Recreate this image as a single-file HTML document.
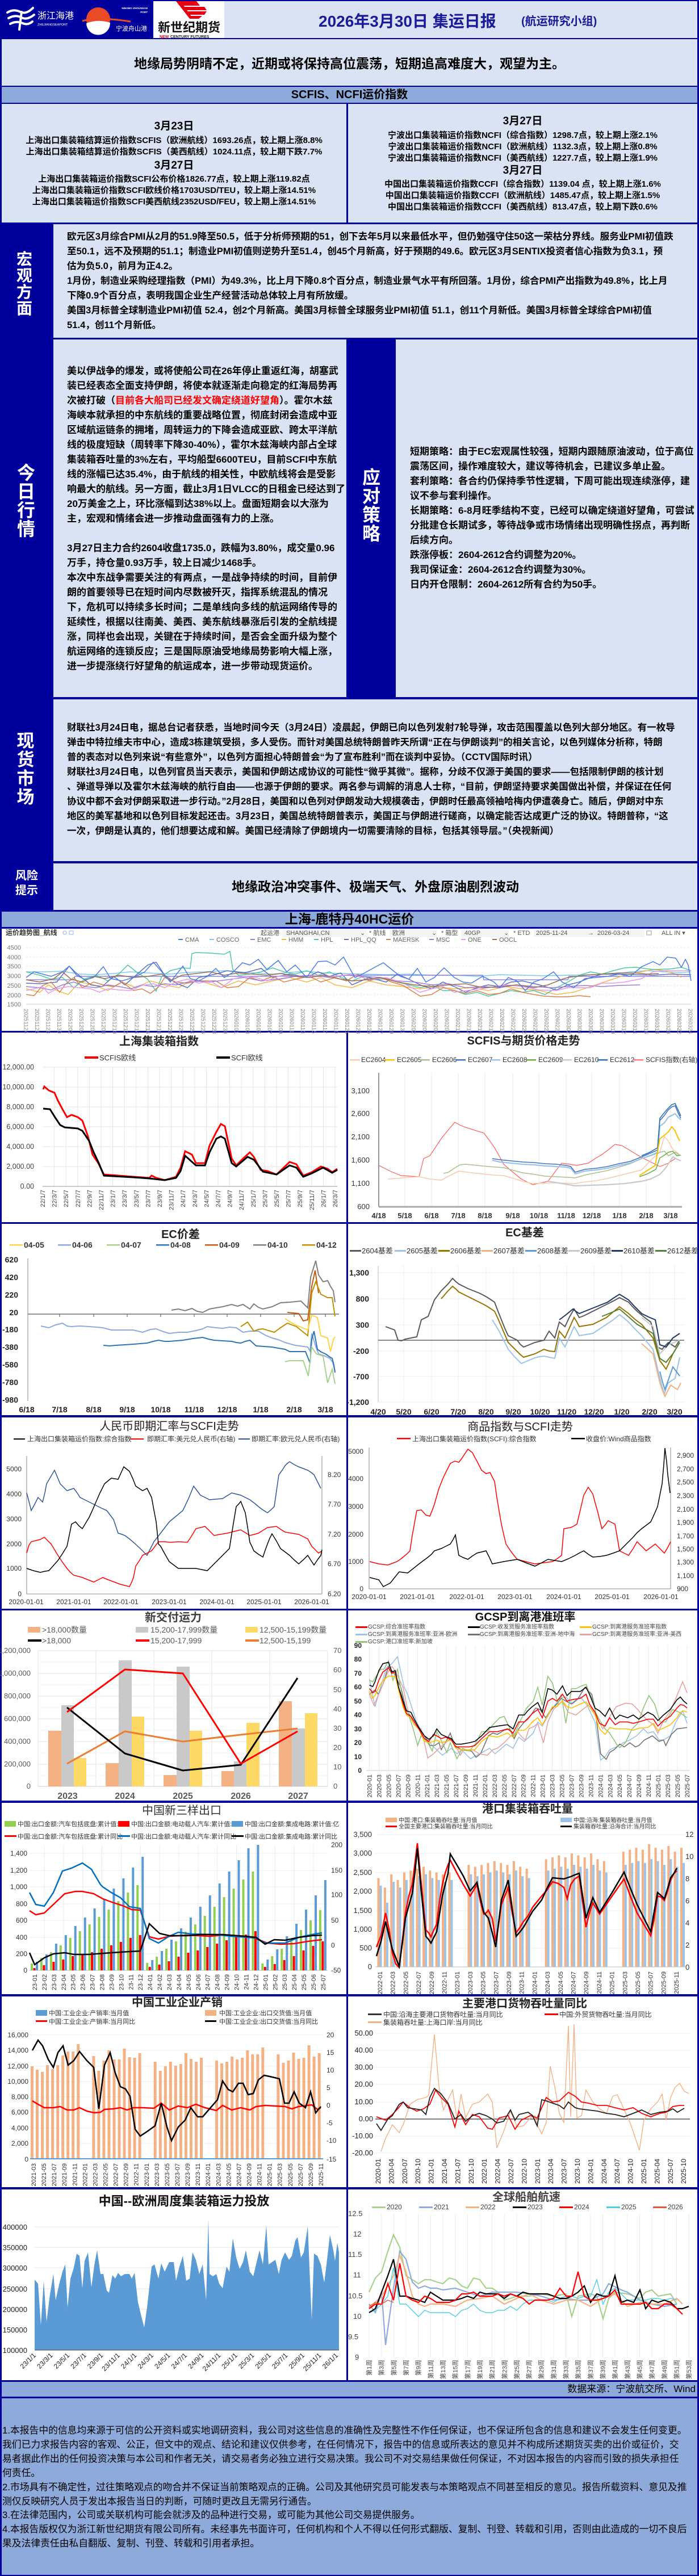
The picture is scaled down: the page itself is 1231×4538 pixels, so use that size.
<!DOCTYPE html>
<html><head><meta charset="utf-8">
<style>
*{margin:0;padding:0;box-sizing:border-box}
body{width:1231px;height:4538px;background:#00009c;position:relative;overflow:hidden;font-family:"Liberation Sans","Noto Sans CJK SC",sans-serif;color:#000}
.pl{position:absolute;background:#dae3f3}
.wh{position:absolute;background:#fff}
.bl{position:absolute;background:#8eaadb}
.t{position:absolute;white-space:nowrap;font-weight:bold;font-size:17px;line-height:26px}
.t div{height:26px}
.c{position:absolute;white-space:nowrap;font-weight:bold;font-size:15px;line-height:20px;text-align:center}
.v{position:absolute;color:#fff;font-weight:bold;text-align:center}
.red{color:#ff0000}
svg text{font-family:"Liberation Sans","Noto Sans CJK SC",sans-serif}
.ns{vector-effect:non-scaling-stroke}
</style></head><body>

<!-- HEADER -->
<div class="wh" style="left:270px;top:2px;width:125px;height:65px"></div>
<div class="pl" style="left:395px;top:2px;width:833px;height:65px"></div>
<div class="pl" style="left:3px;top:69px;width:1225px;height:82px"></div>
<div style="position:absolute;left:3px;top:97px;width:1225px;text-align:center;font-size:23px;font-weight:bold;white-space:nowrap;line-height:30px">地缘局势阴晴不定，近期或将保持高位震荡，短期追高难度大，观望为主。</div>
<div class="bl" style="left:3px;top:153px;width:1225px;height:28px"></div>
<div style="position:absolute;left:3px;top:153px;width:1225px;text-align:center;font-size:20px;font-weight:bold;line-height:28px">SCFIS、NCFI运价指数</div>

<!-- INDEX BOX -->
<div class="pl" style="left:3px;top:183px;width:607px;height:209px"></div>
<div class="pl" style="left:613px;top:183px;width:615px;height:209px"></div>
<div class="c" style="left:3px;width:607px;top:212px;font-size:19px;line-height:22px">3月23日</div>
<div class="c" style="left:3px;width:607px;top:238px">上海出口集装箱结算运价指数SCFIS（欧洲航线）1693.26点，较上期上涨8.8%</div>
<div class="c" style="left:3px;width:607px;top:258px">上海出口集装箱结算运价指数SCFIS（美西航线）1024.11点，较上期下跌7.7%</div>
<div class="c" style="left:3px;width:607px;top:281px;font-size:19px;line-height:22px">3月27日</div>
<div class="c" style="left:3px;width:607px;top:306px">上海出口集装箱运价指数SCFI公布价格1826.77点，较上期上涨119.82点</div>
<div class="c" style="left:3px;width:607px;top:326px">上海出口集装箱运价指数SCFI欧线价格1703USD/TEU，较上期上涨14.51%</div>
<div class="c" style="left:3px;width:607px;top:346px">上海出口集装箱运价指数SCFI美西航线2352USD/FEU，较上期上涨14.51%</div>
<div class="c" style="left:613px;width:615px;top:203px;font-size:19px;line-height:22px">3月27日</div>
<div class="c" style="left:613px;width:615px;top:229px">宁波出口集装箱运价指数NCFI（综合指数）1298.7点，较上期上涨2.1%</div>
<div class="c" style="left:613px;width:615px;top:249px">宁波出口集装箱运价指数NCFI（欧洲航线）1132.3点，较上期上涨0.8%</div>
<div class="c" style="left:613px;width:615px;top:269px">宁波出口集装箱运价指数NCFI（美西航线）1227.7点，较上期上涨1.9%</div>
<div class="c" style="left:613px;width:615px;top:290px;font-size:19px;line-height:22px">3月27日</div>
<div class="c" style="left:613px;width:615px;top:315px">中国出口集装箱运价指数CCFI（综合指数）1139.04 点，较上期上涨1.6%</div>
<div class="c" style="left:613px;width:615px;top:335px">中国出口集装箱运价指数CCFI（欧洲航线）1485.47点，较上期上涨1.5%</div>
<div class="c" style="left:613px;width:615px;top:355px">中国出口集装箱运价指数CCFI（美西航线）813.47点，较上期下跌0.6%</div>

<!-- MACRO -->
<div class="pl" style="left:94px;top:395px;width:1134px;height:200px"></div>
<div class="v" style="left:28px;top:442px;width:30px;font-size:28px;line-height:29px">宏<br>观<br>方<br>面</div>
<div class="t" style="left:118px;top:404px;font-size:16.6px">
<div>欧元区3月综合PMI从2月的51.9降至50.5，低于分析师预期的51，创下去年5月以来最低水平，但仍勉强守住50这一荣枯分界线。服务业PMI初值跌</div>
<div>至50.1，远不及预期的51.1；制造业PMI初值则逆势升至51.4，创45个月新高，好于预期的49.6。欧元区3月SENTIX投资者信心指数为负3.1，预</div>
<div>估为负5.0，前月为正4.2。</div>
<div>1月份，制造业采购经理指数（PMI）为49.3%，比上月下降0.8个百分点，制造业景气水平有所回落。1月份，综合PMI产出指数为49.8%，比上月</div>
<div>下降0.9个百分点，表明我国企业生产经营活动总体较上月有所放缓。</div>
<div>美国3月标普全球制造业PMI初值 52.4，创2个月新高。美国3月标普全球服务业PMI初值 51.1，创11个月新低。美国3月标普全球综合PMI初值</div>
<div>51.4，创11个月新低。</div>
</div>

<!-- TODAY / STRATEGY -->
<div class="pl" style="left:94px;top:598px;width:516px;height:630px"></div>
<div class="pl" style="left:697px;top:598px;width:531px;height:630px"></div>
<div class="v" style="left:29px;top:817px;width:34px;font-size:32px;line-height:33px">今<br>日<br>行<br>情</div>
<div class="v" style="left:637px;top:825px;width:34px;font-size:32px;line-height:33px">应<br>对<br>策<br>略</div>
<div class="t" style="left:118px;top:641px">
<div>美以伊战争的爆发，或将使船公司在26年停止重返红海，胡塞武</div>
<div>装已经表态全面支持伊朗，将使本就逐渐走向稳定的红海局势再</div>
<div>次被打破（<span class="red">目前各大船司已经发文确定绕道好望角</span>）。霍尔木兹</div>
<div>海峡本就承担的中东航线的重要战略位置，彻底封闭会造成中亚</div>
<div>区域航运链条的拥堵，周转运力的下降会造成亚欧、跨太平洋航</div>
<div>线的极度短缺（周转率下降30-40%），霍尔木兹海峡内部占全球</div>
<div>集装箱吞吐量的3%左右，平均船型6600TEU，目前SCFI中东航</div>
<div>线的涨幅已达35.4%，由于航线的相关性，中欧航线将会是受影</div>
<div>响最大的航线。另一方面，截止3月1日VLCC的日租金已经达到了</div>
<div>20万美金之上，环比涨幅到达38%以上。盘面短期会以大涨为</div>
<div>主，宏观和情绪会进一步推动盘面强有力的上涨。</div>
<div></div>
<div>3月27日主力合约2604收盘1735.0，跌幅为3.80%，成交量0.96</div>
<div>万手，持仓量0.93万手，较上日减少1468手。</div>
<div>本次中东战争需要关注的有两点，一是战争持续的时间，目前伊</div>
<div>朗的首要领导已在短时间内尽数被歼灭，指挥系统混乱的情况</div>
<div>下，危机可以持续多长时间；二是单线向多线的航运网络传导的</div>
<div>延续性，根据以往南美、美西、美东航线暴涨后引发的全航线提</div>
<div>涨，同样也会出现，关键在于持续时间，是否会全面升级为整个</div>
<div>航运网络的连锁反应；三是国际原油受地缘局势影响大幅上涨，</div>
<div>进一步提涨绕行好望角的航运成本，进一步带动现货运价。</div>
</div>
<div class="t" style="left:722px;top:783px">
<div>短期策略：由于EC宏观属性较强，短期内跟随原油波动，位于高位</div>
<div>震荡区间，操作难度较大，建议等待机会，已建议多单止盈。</div>
<div>套利策略：各合约仍保持季节性逻辑，下周可能出现连续涨停，建</div>
<div>议不参与套利操作。</div>
<div>长期策略：6-8月旺季结构不变，已经可以确定绕道好望角，可尝试</div>
<div>分批建仓长期试多，等待战争或市场情绪出现明确性拐点，再判断</div>
<div>后续方向。</div>
<div>跌涨停板：2604-2612合约调整为20%。</div>
<div>我司保证金：2604-2612合约调整为30%。</div>
<div>日内开仓限制：2604-2612所有合约为50手。</div>
</div>

<!-- SPOT -->
<div class="pl" style="left:94px;top:1232px;width:1134px;height:285px"></div>
<div class="v" style="left:29px;top:1289px;width:32px;font-size:31px;line-height:33px">现<br>货<br>市<br>场</div>
<div class="t" style="left:118px;top:1269px;font-size:16.5px">
<div>财联社3月24日电，据总台记者获悉，当地时间今天（3月24日）凌晨起，伊朗已向以色列发射7轮导弹，攻击范围覆盖以色列大部分地区。有一枚导</div>
<div>弹击中特拉维夫市中心，造成3栋建筑受损，多人受伤。而针对美国总统特朗普昨天所谓“正在与伊朗谈判”的相关言论，以色列媒体分析称，特朗</div>
<div>普的表态对以色列来说“有些意外”，以色列方面担心特朗普会“为了宣布胜利”而在谈判中妥协。（CCTV国际时讯）</div>
<div>财联社3月24日电，以色列官员当天表示，美国和伊朗达成协议的可能性“微乎其微”。据称，分歧不仅源于美国的要求——包括限制伊朗的核计划</div>
<div>、弹道导弹以及霍尔木兹海峡的航行自由——也源于伊朗的要求。两名参与调解的消息人士称，“目前，伊朗坚持要求美国做出补偿，并保证在任何</div>
<div>协议中都不会对伊朗采取进一步行动。”2月28日，美国和以色列对伊朗发动大规模袭击，伊朗时任最高领袖哈梅内伊遭袭身亡。随后，伊朗对中东</div>
<div>地区的美军基地和以色列目标发起还击。3月23日，美国总统特朗普表示，美国正与伊朗进行磋商，以确定能否达成更广泛的协议。特朗普称，“这</div>
<div>一次，伊朗是认真的，他们想要达成和解。美国已经清除了伊朗境内一切需要清除的目标，包括其领导层。”（央视新闻）</div>
</div>

<!-- RISK -->
<div class="pl" style="left:94px;top:1521px;width:1134px;height:82px"></div>
<div class="v" style="left:26px;top:1530px;width:42px;font-size:20px;line-height:26px">风险<br>提示</div>
<div style="position:absolute;left:94px;width:1134px;top:1546px;text-align:center;font-size:23px;font-weight:bold;line-height:32px">地缘政治冲突事件、极端天气、外盘原油剧烈波动</div>

<div class="bl" style="left:3px;top:1606px;width:1225px;height:27px"></div>
<div style="position:absolute;left:3px;width:1225px;top:1606px;text-align:center;font-size:23px;font-weight:bold;line-height:27px">上海-鹿特丹40HC运价</div>

<!-- CHART PANELS -->
<div class="wh" style="left:3px;top:1636px;width:1225px;height:180px"></div>
<div class="wh" style="left:3px;top:1819px;width:607px;height:334px"></div>
<div class="wh" style="left:613px;top:1819px;width:615px;height:334px"></div>
<div class="wh" style="left:3px;top:2156px;width:607px;height:337px"></div>
<div class="wh" style="left:613px;top:2156px;width:615px;height:337px"></div>
<div class="wh" style="left:3px;top:2497px;width:607px;height:337px"></div>
<div class="wh" style="left:613px;top:2497px;width:615px;height:337px"></div>
<div class="wh" style="left:3px;top:2837px;width:607px;height:335px"></div>
<div class="wh" style="left:613px;top:2837px;width:615px;height:335px"></div>
<div class="wh" style="left:3px;top:3176px;width:607px;height:337px"></div>
<div class="wh" style="left:613px;top:3176px;width:615px;height:337px"></div>
<div class="wh" style="left:3px;top:3517px;width:607px;height:336px"></div>
<div class="wh" style="left:613px;top:3517px;width:615px;height:336px"></div>
<div class="wh" style="left:3px;top:3857px;width:607px;height:336px"></div>
<div class="wh" style="left:613px;top:3857px;width:615px;height:336px"></div>

<!-- FOOTER -->
<div class="bl" style="left:3px;top:4196px;width:1225px;height:26px"></div>
<div style="position:absolute;right:6px;top:4196px;font-size:17px;line-height:26px;white-space:nowrap">数据来源：宁波航交所、Wind</div>
<div class="bl" style="left:3px;top:4225px;width:1225px;height:311px"></div>
<div style="position:absolute;left:4px;top:4270px;font-size:16.8px;line-height:24.9px;white-space:nowrap">
<div>1.本报告中的信息均来源于可信的公开资料或实地调研资料，我公司对这些信息的准确性及完整性不作任何保证，也不保证所包含的信息和建议不会发生任何变更。</div>
<div>我们已力求报告内容的客观、公正，但文中的观点、结论和建议仅供参考，在任何情况下，报告中的信息或所表达的意见并不构成所述期货买卖的出价或征价，交</div>
<div>易者据此作出的任何投资决策与本公司和作者无关，请交易者务必独立进行交易决策。我公司不对交易结果做任何保证，不对因本报告的内容而引致的损失承担任</div>
<div>何责任。</div>
<div>2.市场具有不确定性，过往策略观点的吻合并不保证当前策略观点的正确。公司及其他研究员可能发表与本策略观点不同甚至相反的意见。报告所载资料、意见及推</div>
<div>测仅反映研究人员于发出本报告当日的判断，可随时更改且无需另行通告。</div>
<div>3.在法律范围内，公司或关联机构可能会就涉及的品种进行交易，或可能为其他公司交易提供服务。</div>
<div>4.本报告版权仅为浙江新世纪期货有限公司所有。未经事先书面许可，任何机构和个人不得以任何形式翻版、复制、刊登、转载和引用，否则由此造成的一切不良后</div>
<div>果及法律责任由私自翻版、复制、刊登、转载和引用者承担。</div>
</div>

<svg style="position:absolute;left:0;top:0" width="1231" height="4538" viewBox="0 0 1231 4538">
<!-- ===== LOGOS ===== -->
<g fill="none" stroke="#fff" stroke-width="4" stroke-linecap="round">
<path d="M13 22 Q24 15 36 21 Q46 26 58 14"/>
<path d="M15 32 Q27 25 38 31 Q48 36 60 26"/>
<path d="M18 42 Q29 36 40 41 Q49 45 57 38"/>
<path d="M38 21 L34 52"/>
</g>
<text x="66" y="33" font-size="16" fill="#fff">浙江海港</text>
<text x="66" y="45" font-size="5.5" fill="#fff">ZHEJIANGSEAPORT</text>
<circle cx="173" cy="34" r="21" fill="#ea4b26"/>
<path d="M152 41 Q172 33 194 40 A21 21 0 0 1 152 41 Z" fill="#fff"/>
<path d="M145 37 Q172 29 230 38" stroke="#ea4b26" stroke-width="3" fill="none"/>
<text x="260" y="16" font-size="4.6" font-weight="bold" fill="#fff" text-anchor="end">NINGBO ZHOUSHAN</text>
<text x="260" y="23" font-size="4.6" font-weight="bold" fill="#fff" text-anchor="end">PORT</text>
<text x="204" y="54" font-size="11" fill="#fff">宁波舟山港</text>
<g fill="#e60012">
<polygon points="310,2 346,2 352,10 316,10"/>
<polygon points="318,12 360,12 364,18 324,18"/>
<polygon points="326,20 364,20 360,26 332,26"/>
<polygon points="334,28 356,28 350,33 340,33"/>
<polygon points="310,2 318,2 340,33 334,33"/>
</g>
<text x="278" y="56" font-size="22" font-weight="bold" fill="#111" font-family="Noto Serif CJK SC">新世纪期货</text>
<text x="281" y="67" font-size="7" font-weight="bold" fill="#e60012">NEW</text>
<text x="300" y="67" font-size="7" font-weight="bold" fill="#222">CENTURY FUTURES</text>
<text x="561" y="47" font-size="28" font-weight="bold" fill="#1b1b9a">2026年3月30日 集运日报</text>
<text x="918" y="44" font-size="20" font-weight="bold" fill="#1b1b9a">(航运研究小组)</text>

<!-- ===== FREIGHT CHART ===== -->
<g font-size="11" fill="#555">
<text x="10" y="1647" font-size="12" font-weight="bold" fill="#333">运价趋势图_航线</text>
<circle cx="114" cy="1643" r="3" fill="none" stroke="#8ab4f8"/><rect x="122" y="1640" width="7" height="6" fill="none" stroke="#8ab4f8"/>
<text x="459" y="1647">起运港</text>
<rect x="497" y="1637" width="150" height="14" fill="#f4f4f4"/>
<text x="504" y="1647">SHANGHAI,CN</text><text x="634" y="1647">⌄</text>
<text x="650" y="1647">* 航线</text><rect x="686" y="1637" width="84" height="14" fill="#f4f4f4"/><text x="691" y="1647">欧洲</text><text x="760" y="1647">⌄</text>
<text x="777" y="1647">* 箱型</text><rect x="812" y="1637" width="84" height="14" fill="#f4f4f4"/><text x="818" y="1647">40GP</text><text x="887" y="1647">⌄</text>
<text x="904" y="1647">* ETD</text><rect x="940" y="1637" width="195" height="14" fill="#f4f4f4"/><text x="944" y="1647">2025-11-24</text><text x="1035" y="1647">→</text><text x="1052" y="1647">2026-03-24</text>
<rect x="1139" y="1640" width="8" height="7" fill="none" stroke="#999"/>
<text x="1165" y="1647">ALL IN ▾</text>
</g>
<g font-size="11" fill="#666">
<rect x="314" y="1654" width="8" height="2" fill="#4f7be8"/><text x="326" y="1659">CMA</text>
<rect x="369" y="1654" width="8" height="2" fill="#7ecbef"/><text x="381" y="1659">COSCO</text>
<rect x="441" y="1654" width="8" height="2" fill="#8b85e8"/><text x="453" y="1659">EMC</text>
<rect x="496" y="1654" width="8" height="2" fill="#f5b94a"/><text x="508" y="1659">HMM</text>
<rect x="553" y="1654" width="8" height="2" fill="#4ec9a2"/><text x="565" y="1659">HPL</text>
<rect x="606" y="1654" width="8" height="2" fill="#5d6fc0"/><text x="618" y="1659">HPL_QQ</text>
<rect x="680" y="1654" width="8" height="2" fill="#d9814a"/><text x="692" y="1659">MAERSK</text>
<rect x="756" y="1654" width="8" height="2" fill="#9b7fd8"/><text x="768" y="1659">MSC</text>
<rect x="812" y="1654" width="8" height="2" fill="#e49af0"/><text x="824" y="1659">ONE</text>
<rect x="867" y="1654" width="8" height="2" fill="#9c6e4e"/><text x="879" y="1659">OOCL</text>
</g>
<g stroke="#e6e6e6" stroke-dasharray="3,3">
<line x1="46" y1="1669" x2="1217" y2="1669"/><line x1="46" y1="1686" x2="1217" y2="1686"/><line x1="46" y1="1702" x2="1217" y2="1702"/><line x1="46" y1="1719" x2="1217" y2="1719"/><line x1="46" y1="1736" x2="1217" y2="1736"/><line x1="46" y1="1752" x2="1217" y2="1752"/>
</g>
<line x1="46" y1="1769" x2="1217" y2="1769" stroke="#ccc"/>
<g font-size="11" fill="#777" text-anchor="end">
<text x="37" y="1673">4500</text><text x="37" y="1690">4000</text><text x="37" y="1706">3500</text><text x="37" y="1723">3000</text><text x="37" y="1740">2500</text><text x="37" y="1757">2000</text><text x="37" y="1773">1500</text>
</g>
<g fill="none" stroke-width="1.5">
<polyline stroke="#7ecbef" points="46,1712 80,1712 110,1711 140,1716 170,1717 200,1715 230,1712 260,1714 300,1716 330,1713 360,1712 395,1710 420,1712 450,1714 480,1716 510,1713 540,1711 570,1714 600,1715 640,1716 680,1717 720,1716 760,1718 800,1718 840,1720 880,1717 920,1718 960,1719 1000,1718 1040,1717 1080,1716 1110,1712 1140,1710 1170,1712 1200,1713 1217,1712"/>
<polyline stroke="#8b85e8" points="46,1726 130,1726 132,1720 600,1720 602,1718 850,1718 852,1726 1000,1726 1002,1720 1217,1720"/>
<polyline stroke="#f5b94a" points="46,1742 70,1748 85,1735 100,1745 120,1752 140,1730 165,1735 190,1745 215,1730 240,1740 265,1728 290,1735 315,1740 340,1725 365,1732 390,1740 420,1728 450,1735 480,1728 510,1722 540,1730 565,1722 590,1735 620,1740 650,1728 680,1735 710,1738 740,1742 770,1738 800,1742 830,1740 860,1745 890,1738 920,1742 950,1745 980,1752 1010,1748 1040,1738 1070,1728 1100,1718 1130,1712 1150,1708 1170,1710 1190,1716 1200,1722"/>
<polyline stroke="#4ec9a2" points="46,1712 70,1718 90,1725 110,1722 130,1740 150,1724 170,1718 190,1728 210,1715 225,1700 240,1712 260,1725 275,1746 285,1720 300,1710 320,1705 335,1706 338,1680 345,1678 370,1679 395,1681 405,1676 410,1708 420,1718 440,1716 460,1712 480,1705 500,1712 520,1716 540,1710 560,1718 580,1712 600,1722 620,1728 640,1720 660,1726 680,1724 700,1730 720,1735 740,1740 760,1735 780,1745 800,1745 820,1752 840,1748 860,1755 880,1750 900,1745 920,1748 940,1745 960,1752 980,1740 1000,1730 1020,1718 1040,1712 1060,1716 1080,1710 1100,1705 1120,1704 1150,1708 1180,1707 1200,1704 1217,1710"/>
<polyline stroke="#5d6fc0" points="46,1732 70,1733 100,1730 122,1702 135,1715 160,1735 180,1738 200,1720 220,1735 260,1700 275,1695 290,1718 310,1732 330,1740 350,1722 380,1716 400,1710 430,1714 460,1706 480,1722 510,1716 540,1722 560,1712 580,1720 600,1714 620,1735 650,1722 680,1730 700,1716 720,1725 740,1735 760,1742 780,1730 800,1738 820,1748 840,1740 860,1735 880,1738 900,1730 920,1728 950,1735 980,1744 1000,1735 1020,1730 1040,1722 1060,1716 1090,1716 1120,1717 1150,1718 1180,1716 1217,1717"/>
<polyline stroke="#d9814a" points="46,1752 60,1754 75,1736 90,1730 105,1748 115,1734 130,1722 145,1740 165,1730 185,1736 200,1738 215,1730 235,1745 250,1742 265,1750 280,1738 290,1722 310,1730 330,1732 350,1728 380,1728 400,1740 420,1738 440,1722 460,1728 480,1720 500,1730 520,1725 545,1720 565,1730 590,1722 610,1728 630,1716 650,1728 670,1722 690,1730 710,1736 740,1755 760,1752 780,1740 800,1745 820,1750 840,1745 860,1752 880,1750 900,1742 920,1748 940,1752 960,1755 980,1756 1000,1756 1020,1754 1040,1756"/>
<polyline stroke="#9b7fd8" points="46,1738 70,1740 90,1744 110,1735 130,1730 150,1738 170,1740 190,1735 210,1738 230,1742 250,1735 270,1738 290,1733 310,1735 340,1728 370,1730 400,1726 430,1722 460,1728 490,1725 520,1720 550,1718 580,1722 610,1718 640,1720 670,1722 700,1728 730,1730 760,1735 790,1733 820,1740 850,1738 880,1740 910,1735 940,1738 970,1740 1000,1738 1030,1736 1060,1738 1090,1736 1127,1735"/>
<polyline stroke="#e49af0" points="46,1745 60,1742 75,1738 85,1750 100,1742 120,1738 140,1740 160,1742 175,1748 190,1742 210,1744 230,1745 250,1736 270,1733 290,1740 310,1730 330,1725 350,1732 370,1728 390,1740 410,1725 430,1720 450,1722 470,1728 490,1720 510,1718 530,1722 560,1718 590,1720 620,1716 650,1726 680,1722 710,1732 740,1748 760,1742 780,1738 800,1748 830,1744 860,1740 890,1735 920,1738 950,1744 980,1745 1000,1740 1040,1740 1060,1732 1080,1732 1100,1730 1130,1724 1150,1712 1170,1710 1217,1710"/>
<polyline stroke="#9c6e4e" points="46,1726 70,1730 95,1724 110,1712 125,1725 145,1730 165,1720 185,1724 210,1718 235,1722 260,1720 285,1716 300,1728 320,1718 345,1715 370,1712 395,1718 420,1714 445,1716 470,1718 495,1715 520,1720 545,1722 570,1718 595,1724 620,1728 645,1726 670,1722 700,1730 730,1735 760,1738 790,1735 820,1733 850,1740 880,1738 910,1735 940,1740 965,1735 990,1725 1000,1722 1030,1718 1060,1716 1090,1714 1120,1714 1140,1716 1160,1715"/>
<polyline stroke="#4f7be8" points="46,1722 60,1712 75,1716 90,1720 110,1712 122,1702 135,1718 150,1726 165,1722 182,1703 195,1724 215,1728 235,1722 255,1712 270,1695 285,1712 300,1730 322,1702 335,1724 350,1728 365,1720 380,1706 395,1722 410,1713 427,1696 440,1700 455,1690 470,1708 490,1692 505,1712 520,1700 540,1722 560,1694 575,1693 590,1700 605,1686 615,1704 625,1722 640,1715 660,1704 675,1696 690,1708 705,1720 720,1725 735,1706 750,1730 765,1722 782,1705 800,1722 815,1730 830,1732 850,1720 870,1730 880,1740 895,1722 910,1728 925,1745 940,1730 955,1725 975,1712 990,1730 1010,1740 1030,1724 1050,1722 1070,1720 1090,1716 1110,1720 1130,1703 1150,1694 1162,1700 1175,1686 1190,1688 1200,1704 1207,1690 1212,1700 1217,1728"/>
</g>
<g font-size="10" fill="#888">
<text transform="translate(42.5,1777) rotate(90)">20251124</text><text transform="translate(62,1777) rotate(90)">20251126</text><text transform="translate(81.5,1777) rotate(90)">20251128</text><text transform="translate(101,1777) rotate(90)">20251130</text><text transform="translate(120.5,1777) rotate(90)">20251202</text><text transform="translate(140,1777) rotate(90)">20251204</text><text transform="translate(159.5,1777) rotate(90)">20251206</text><text transform="translate(179,1777) rotate(90)">20251208</text><text transform="translate(198.5,1777) rotate(90)">20251210</text><text transform="translate(218,1777) rotate(90)">20251212</text><text transform="translate(237.5,1777) rotate(90)">20251214</text><text transform="translate(257,1777) rotate(90)">20251216</text><text transform="translate(276.5,1777) rotate(90)">20251218</text><text transform="translate(296,1777) rotate(90)">20251220</text><text transform="translate(315.5,1777) rotate(90)">20251222</text><text transform="translate(335,1777) rotate(90)">20251224</text><text transform="translate(354.5,1777) rotate(90)">20251226</text><text transform="translate(374,1777) rotate(90)">20251228</text><text transform="translate(393.5,1777) rotate(90)">20251230</text><text transform="translate(413,1777) rotate(90)">20260101</text><text transform="translate(432.5,1777) rotate(90)">20260103</text><text transform="translate(452,1777) rotate(90)">20260105</text><text transform="translate(471.5,1777) rotate(90)">20260107</text><text transform="translate(491,1777) rotate(90)">20260109</text><text transform="translate(510.5,1777) rotate(90)">20260111</text><text transform="translate(530,1777) rotate(90)">20260113</text><text transform="translate(549.5,1777) rotate(90)">20260115</text><text transform="translate(569,1777) rotate(90)">20260117</text><text transform="translate(588.5,1777) rotate(90)">20260119</text><text transform="translate(608,1777) rotate(90)">20260121</text><text transform="translate(627.5,1777) rotate(90)">20260123</text><text transform="translate(647,1777) rotate(90)">20260125</text><text transform="translate(666.5,1777) rotate(90)">20260127</text><text transform="translate(686,1777) rotate(90)">20260129</text><text transform="translate(705.5,1777) rotate(90)">20260131</text><text transform="translate(725,1777) rotate(90)">20260202</text><text transform="translate(744.5,1777) rotate(90)">20260204</text><text transform="translate(764,1777) rotate(90)">20260206</text><text transform="translate(783.5,1777) rotate(90)">20260208</text><text transform="translate(803,1777) rotate(90)">20260210</text><text transform="translate(822.5,1777) rotate(90)">20260212</text><text transform="translate(842,1777) rotate(90)">20260214</text><text transform="translate(861.5,1777) rotate(90)">20260216</text><text transform="translate(881,1777) rotate(90)">20260218</text><text transform="translate(900.5,1777) rotate(90)">20260220</text><text transform="translate(920,1777) rotate(90)">20260222</text><text transform="translate(939.5,1777) rotate(90)">20260224</text><text transform="translate(959,1777) rotate(90)">20260226</text><text transform="translate(978.5,1777) rotate(90)">20260228</text><text transform="translate(998,1777) rotate(90)">20260302</text><text transform="translate(1017.5,1777) rotate(90)">20260304</text><text transform="translate(1037,1777) rotate(90)">20260306</text><text transform="translate(1056.5,1777) rotate(90)">20260308</text><text transform="translate(1076,1777) rotate(90)">20260310</text><text transform="translate(1095.5,1777) rotate(90)">20260312</text><text transform="translate(1115,1777) rotate(90)">20260314</text><text transform="translate(1134.5,1777) rotate(90)">20260316</text><text transform="translate(1154,1777) rotate(90)">20260318</text><text transform="translate(1173.5,1777) rotate(90)">20260320</text><text transform="translate(1193,1777) rotate(90)">20260322</text><text transform="translate(1212.5,1777) rotate(90)">20260324</text>
</g>

<!-- ===== SCFI INDEX (left r1) ===== -->
<text x="280" y="1841" font-size="20" font-weight="bold" text-anchor="middle" fill="#222">上海集装箱指数</text>
<rect x="149" y="1861" width="24" height="4" fill="#ff0000"/><text x="175" y="1868" font-size="13" fill="#333">SCFIS欧线</text>
<rect x="381" y="1861" width="24" height="4" fill="#000"/><text x="407" y="1868" font-size="13" fill="#333">SCFI欧线</text>
<g stroke="#e6e6e6">
<line x1="75" y1="1880" x2="594" y2="1880"/><line x1="75" y1="1915" x2="594" y2="1915"/><line x1="75" y1="1950" x2="594" y2="1950"/><line x1="75" y1="1985" x2="594" y2="1985"/><line x1="75" y1="2020" x2="594" y2="2020"/><line x1="75" y1="2055" x2="594" y2="2055"/>
<line x1="95.6" y1="1880" x2="95.6" y2="2090"/><line x1="116.2" y1="1880" x2="116.2" y2="2090"/><line x1="136.8" y1="1880" x2="136.8" y2="2090"/><line x1="157.4" y1="1880" x2="157.4" y2="2090"/><line x1="178" y1="1880" x2="178" y2="2090"/><line x1="198.6" y1="1880" x2="198.6" y2="2090"/><line x1="219.2" y1="1880" x2="219.2" y2="2090"/><line x1="239.8" y1="1880" x2="239.8" y2="2090"/><line x1="260.4" y1="1880" x2="260.4" y2="2090"/><line x1="281" y1="1880" x2="281" y2="2090"/><line x1="301.6" y1="1880" x2="301.6" y2="2090"/><line x1="322.2" y1="1880" x2="322.2" y2="2090"/><line x1="342.8" y1="1880" x2="342.8" y2="2090"/><line x1="363.4" y1="1880" x2="363.4" y2="2090"/><line x1="384" y1="1880" x2="384" y2="2090"/><line x1="404.6" y1="1880" x2="404.6" y2="2090"/><line x1="425.2" y1="1880" x2="425.2" y2="2090"/><line x1="445.8" y1="1880" x2="445.8" y2="2090"/><line x1="466.4" y1="1880" x2="466.4" y2="2090"/><line x1="487" y1="1880" x2="487" y2="2090"/><line x1="507.6" y1="1880" x2="507.6" y2="2090"/><line x1="528.2" y1="1880" x2="528.2" y2="2090"/><line x1="548.8" y1="1880" x2="548.8" y2="2090"/><line x1="569.4" y1="1880" x2="569.4" y2="2090"/><line x1="590" y1="1880" x2="590" y2="2090"/>
</g>
<line x1="75" y1="2090" x2="594" y2="2090" stroke="#999"/>
<g font-size="12.5" fill="#444" text-anchor="end">
<text x="60" y="1884">12,000.00</text><text x="60" y="1919">10,000.00</text><text x="60" y="1954">8,000.00</text><text x="60" y="1989">6,000.00</text><text x="60" y="2024">4,000.00</text><text x="60" y="2059">2,000.00</text><text x="60" y="2094">0.00</text>
</g>
<polyline fill="none" stroke="#ff0000" stroke-width="3" points="76,1919 78,1914 86,1921 96,1925 102,1939 110,1954 118,1968 126,1964 137,1968 145,1974 155,2002 163,2034 173,2049 183,2069 235,2073 263,2075 267,2071 275,2075 290,2079 310,2073 318,2057 326,2028 338,2034 345,2049 361,2049 369,2018 381,1994 389,1980 396,1984 408,2041 416,2053 428,2041 440,2030 447,2038 459,2061 471,2063 487,2069 510,2047 522,2051 534,2071 549,2065 565,2055 577,2059 585,2065 594,2059"/>
<polyline fill="none" stroke="#000" stroke-width="3" points="76,1953 88,1954 98,1970 106,1982 114,1986 137,1988 145,1992 157,2010 165,2030 174,2049 183,2071 235,2074 263,2076 290,2079 310,2075 318,2063 326,2036 345,2053 361,2053 369,2030 381,2006 389,2002 396,2006 408,2049 416,2055 436,2038 447,2043 463,2064 487,2069 510,2053 522,2057 534,2073 549,2067 569,2057 585,2066 594,2061"/>
<g font-size="11" fill="#444" text-anchor="end">
<text transform="translate(79,2096) rotate(-90)">22/1/7</text><text transform="translate(99.6,2096) rotate(-90)">22/3/7</text><text transform="translate(120.2,2096) rotate(-90)">22/5/7</text><text transform="translate(140.8,2096) rotate(-90)">22/7/7</text><text transform="translate(161.4,2096) rotate(-90)">22/9/7</text><text transform="translate(182,2096) rotate(-90)">22/11/7</text><text transform="translate(202.6,2096) rotate(-90)">23/1/7</text><text transform="translate(223.2,2096) rotate(-90)">23/3/7</text><text transform="translate(243.8,2096) rotate(-90)">23/5/7</text><text transform="translate(264.4,2096) rotate(-90)">23/7/7</text><text transform="translate(285,2096) rotate(-90)">23/9/7</text><text transform="translate(305.6,2096) rotate(-90)">23/11/7</text><text transform="translate(326.2,2096) rotate(-90)">24/1/7</text><text transform="translate(346.8,2096) rotate(-90)">24/3/7</text><text transform="translate(367.4,2096) rotate(-90)">24/5/7</text><text transform="translate(388,2096) rotate(-90)">24/7/7</text><text transform="translate(408.6,2096) rotate(-90)">24/9/7</text><text transform="translate(429.2,2096) rotate(-90)">24/11/7</text><text transform="translate(449.8,2096) rotate(-90)">25/1/7</text><text transform="translate(470.4,2096) rotate(-90)">25/3/7</text><text transform="translate(491,2096) rotate(-90)">25/5/7</text><text transform="translate(511.6,2096) rotate(-90)">25/7/7</text><text transform="translate(532.2,2096) rotate(-90)">25/9/7</text><text transform="translate(552.8,2096) rotate(-90)">25/11/7</text><text transform="translate(573.4,2096) rotate(-90)">26/1/7</text><text transform="translate(594,2096) rotate(-90)">26/3/7</text>
</g>

<!-- ===== SCFIS vs futures (right r1) ===== -->
<text x="922" y="1840" font-size="20" font-weight="bold" text-anchor="middle" fill="#222">SCFIS与期货价格走势</text>
<g font-size="12" fill="#333">
<rect x="616" y="1866" width="18" height="2.5" fill="#f8cbad"/><text x="636" y="1871">EC2604</text>
<rect x="677" y="1866" width="18" height="2.5" fill="#ffc000"/><text x="699" y="1871">EC2605</text>
<rect x="739" y="1866" width="18" height="2.5" fill="#a9c08f"/><text x="761" y="1871">EC2606</text>
<rect x="802" y="1866" width="18" height="2.5" fill="#4472c4"/><text x="824" y="1871">EC2607</text>
<rect x="863" y="1866" width="18" height="2.5" fill="#9dc3e6"/><text x="885" y="1871">EC2608</text>
<rect x="926" y="1866" width="18" height="2.5" fill="#70ad47"/><text x="948" y="1871">EC2609</text>
<rect x="989" y="1866" width="18" height="2.5" fill="#c9c9c9"/><text x="1011" y="1871">EC2610</text>
<rect x="1052" y="1866" width="18" height="2.5" fill="#2e75b6"/><text x="1074" y="1871">EC2612</text>
<rect x="1115" y="1866" width="18" height="2.5" fill="#ff7c80"/><text x="1137" y="1871">SCFIS指数(右轴)</text>
</g>
<g stroke="#e8e8e8">
<line x1="713" y1="1890" x2="713" y2="2126"/><line x1="760" y1="1890" x2="760" y2="2126"/><line x1="807" y1="1890" x2="807" y2="2126"/><line x1="854" y1="1890" x2="854" y2="2126"/><line x1="903" y1="1890" x2="903" y2="2126"/><line x1="949" y1="1890" x2="949" y2="2126"/><line x1="997" y1="1890" x2="997" y2="2126"/><line x1="1042" y1="1890" x2="1042" y2="2126"/><line x1="1091" y1="1890" x2="1091" y2="2126"/><line x1="1138" y1="1890" x2="1138" y2="2126"/><line x1="1181" y1="1890" x2="1181" y2="2126"/>
</g>
<line x1="667" y1="1890" x2="667" y2="2126" stroke="#333"/>
<line x1="667" y1="2126" x2="1201" y2="2126" stroke="#aaa" stroke-width="3"/>
<g font-size="13" fill="#333" text-anchor="end">
<text x="651" y="1926">3,100</text><text x="651" y="1966">2,600</text><text x="651" y="2007">2,100</text><text x="651" y="2048">1,600</text><text x="651" y="2089">1,100</text><text x="651" y="2130">600</text>
</g>
<g font-size="13" fill="#333" text-anchor="middle" font-weight="bold">
<text x="667" y="2146">4/18</text><text x="713" y="2146">5/18</text><text x="760" y="2146">6/18</text><text x="807" y="2146">7/18</text><text x="854" y="2146">8/18</text><text x="903" y="2146">9/18</text><text x="949" y="2146">10/18</text><text x="997" y="2146">11/18</text><text x="1042" y="2146">12/18</text><text x="1091" y="2146">1/18</text><text x="1138" y="2146">2/18</text><text x="1181" y="2146">3/18</text>
</g>
<g fill="none" stroke-width="1.6">
<polyline stroke="#ff5b5b" stroke-width="1.2" points="667,2053 679,2059 691,2065 699,2068 706,2071 722,2072 738,2073 746,2041 757,2036 767,2021 777,2006 789,1991 801,1977 810,1982 820,1986 836,1991 852,1996 862,2009 871,2022 879,2036 887,2051 902,2064 918,2077 928,2082 938,2087 952,2084 965,2081 977,2065 989,2049 1003,2051 1016,2053 1026,2051 1036,2049 1048,2041 1060,2034 1072,2025 1083,2016 1095,2018 1105,2024 1115,2030 1125,2036 1134,2041 1148,2048 1162,2055 1170,2052 1177,2049 1183,2045 1189,2041"/>
<polyline stroke="#f8cbad" points="683,2077 700,2076 720,2074 738,2073 757,2077 777,2079 790,2072 808,2063 830,2066 850,2068 870,2070 887,2071 905,2076 920,2081 938,2085 960,2084 985,2084 1013,2085 1030,2082 1050,2080 1070,2076 1090,2071 1110,2066 1130,2061 1150,2040 1162,2030 1170,2002 1177,2010 1185,2025 1192,2030 1197,2034"/>
<polyline stroke="#a9c08f" points="781,2067 790,2065 800,2058 810,2052 820,2051 840,2053 860,2055 887,2057 905,2062 920,2066 942,2069 960,2072 980,2073 1000,2074 1013,2075 1030,2070 1050,2066 1070,2062 1090,2056 1110,2050 1130,2041 1146,2036 1162,2030 1170,2028 1177,2036 1185,2032 1190,2030 1197,2036"/>
<polyline stroke="#c9c9c9" stroke-width="2.2" points="965,2081 990,2085 1013,2089 1040,2088 1070,2087 1100,2085 1130,2081 1146,2077 1162,2069 1172,2058 1185,2038 1192,2042 1199,2045"/>
<polyline stroke="#9dc3e6" stroke-width="2.2" points="867,2044 880,2047 900,2049 920,2051 940,2052 960,2054 980,2055 997,2056 1005,2058 1013,2068 1030,2063 1050,2061 1070,2058 1090,2053 1110,2049 1130,2041 1144,2036 1158,2030 1162,1984 1170,1978 1177,1968 1183,1965 1189,1962 1194,1968 1199,1973"/>
<polyline stroke="#4472c4" points="867,2041 880,2043 900,2045 920,2047 940,2048 960,2050 980,2051 997,2053 1005,2055 1013,2065 1030,2060 1050,2058 1070,2055 1090,2050 1110,2046 1130,2038 1144,2032 1158,2026 1162,1974 1170,1965 1177,1955 1183,1950 1189,1948 1194,1960 1199,1970"/>
<polyline stroke="#2e75b6" points="1130,2036 1144,2030 1158,2022 1162,1970 1170,1960 1177,1952 1183,1946 1189,1944 1194,1955 1199,1966"/>
<polyline stroke="#70ad47" points="1126,2073 1140,2068 1155,2060 1162,2040 1170,2035 1177,2030 1185,2028 1192,2036 1199,2035"/>
<polyline stroke="#ffc000" stroke-width="2" points="1126,2071 1140,2062 1154,2053 1162,2006 1170,2000 1177,1994 1183,1985 1189,1992 1193,2002 1197,2010"/>
</g>

<!-- ===== EC spread (left r2) ===== -->
<text x="318" y="2181" font-size="20" font-weight="bold" text-anchor="middle" fill="#222">EC价差</text>
<g font-size="14" font-weight="bold" fill="#333">
<rect x="17" y="2192" width="23" height="2.5" fill="#ffd34d"/><text x="42" y="2198">04-05</text>
<rect x="102" y="2192" width="23" height="2.5" fill="#8eaadc"/><text x="127" y="2198">04-06</text>
<rect x="188" y="2192" width="23" height="2.5" fill="#a9d18e"/><text x="213" y="2198">04-07</text>
<rect x="275" y="2192" width="23" height="2.5" fill="#2e75b6"/><text x="300" y="2198">04-08</text>
<rect x="361" y="2192" width="23" height="2.5" fill="#c55a11"/><text x="386" y="2198">04-09</text>
<rect x="446" y="2192" width="23" height="2.5" fill="#7f7f7f"/><text x="471" y="2198">04-10</text>
<rect x="532" y="2192" width="23" height="2.5" fill="#bf9000"/><text x="557" y="2198">04-12</text>
</g>
<line x1="49" y1="2217" x2="49" y2="2468" stroke="#888"/>
<line x1="49" y1="2315" x2="597" y2="2315" stroke="#555" stroke-width="1.3"/>
<g stroke="#555"><line x1="105" y1="2315" x2="105" y2="2320"/><line x1="165" y1="2315" x2="165" y2="2320"/><line x1="224" y1="2315" x2="224" y2="2320"/><line x1="283" y1="2315" x2="283" y2="2320"/><line x1="342" y1="2315" x2="342" y2="2320"/><line x1="400" y1="2315" x2="400" y2="2320"/><line x1="459" y1="2315" x2="459" y2="2320"/><line x1="518" y1="2315" x2="518" y2="2320"/><line x1="573" y1="2315" x2="573" y2="2320"/></g>
<g font-size="14" font-weight="bold" fill="#222" text-anchor="end">
<text x="32" y="2224">620</text><text x="32" y="2255">420</text><text x="32" y="2286">220</text><text x="32" y="2317">20</text><text x="32" y="2347">-180</text><text x="32" y="2378">-380</text><text x="32" y="2409">-580</text><text x="32" y="2440">-780</text><text x="32" y="2471">-980</text>
</g>
<g font-size="14" font-weight="bold" fill="#222" text-anchor="middle">
<text x="47" y="2488">6/18</text><text x="105" y="2488">7/18</text><text x="165" y="2488">8/18</text><text x="224" y="2488">9/18</text><text x="283" y="2488">10/18</text><text x="342" y="2488">11/18</text><text x="400" y="2488">12/18</text><text x="459" y="2488">1/18</text><text x="518" y="2488">2/18</text><text x="573" y="2488">3/18</text>
</g>
<g fill="none" stroke-width="2">
<polyline stroke="#7f7f7f" points="302,2308 314,2306 326,2309 338,2305 347,2310 357,2312 369,2306 380,2304 392,2302 408,2298 418,2301 428,2298 440,2306 447,2297 455,2303 463,2306 479,2302 494,2295 510,2294 530,2292 538,2300 542,2304 547,2250 556,2221 561,2246 569,2258 577,2256 582,2266 587,2274 590,2294"/>
<polyline stroke="#8eaadc" points="72,2336 86,2339 98,2334 110,2331 118,2336 126,2337 141,2336 157,2337 170,2338 181,2339 196,2343 215,2343 235,2343 251,2347 265,2342 275,2341 288,2346 298,2349 315,2347 330,2347 345,2344 357,2341 365,2337 380,2339 392,2340 404,2338 416,2339 428,2347 440,2345 455,2345 467,2352 479,2357 490,2360 502,2365 520,2370 542,2373 546,2380 549,2349 556,2372 561,2385 570,2388 581,2393 586,2400 590,2416"/>
<polyline stroke="#2e75b6" points="182,2370 193,2371 204,2370 220,2369 235,2368 247,2367 259,2366 270,2363 279,2361 290,2363 298,2363 310,2362 322,2361 340,2358 357,2356 367,2359 377,2361 392,2362 408,2363 416,2365 424,2366 432,2363 440,2361 451,2371 465,2372 479,2373 490,2375 502,2377 510,2381 525,2381 538,2381 546,2401 549,2360 553,2345 559,2377 566,2382 573,2385 580,2390 585,2393 588,2405 590,2418"/>
<polyline stroke="#c55a11" points="506,2312 516,2313 526,2314 530,2320 534,2327 542,2325 545,2300 549,2266 555,2238 561,2278"/>
<polyline stroke="#bf9000" points="424,2337 436,2329 447,2345 455,2342 463,2341 473,2344 483,2347 494,2339 506,2331 514,2334 522,2337 532,2345 542,2353 549,2278 556,2258 561,2270 565,2280 571,2283 577,2286 585,2286 590,2319"/>
<polyline stroke="#ffd34d" points="502,2323 510,2328 518,2333 530,2338 542,2343 549,2317 559,2321 565,2353 571,2355 577,2357 582,2381 587,2360 590,2355"/>
<polyline stroke="#a9d18e" points="502,2399 510,2397 522,2397 534,2397 543,2424 549,2373 557,2385 563,2387 569,2389 577,2436 585,2412 590,2438"/>
</g>

<!-- ===== EC basis (right r2) ===== -->
<text x="924" y="2178" font-size="20" font-weight="bold" text-anchor="middle" fill="#222">EC基差</text>
<g font-size="13" fill="#333">
<rect x="616" y="2202" width="20" height="3" fill="#595959"/><text x="637" y="2208">2604基差</text>
<rect x="695" y="2202" width="20" height="3" fill="#9dc3e6"/><text x="716" y="2208">2605基差</text>
<rect x="772" y="2202" width="20" height="3" fill="#997300"/><text x="793" y="2208">2606基差</text>
<rect x="848" y="2202" width="20" height="3" fill="#f4b183"/><text x="869" y="2208">2607基差</text>
<rect x="925" y="2202" width="20" height="3" fill="#5b9bd5"/><text x="946" y="2208">2608基差</text>
<rect x="1001" y="2202" width="20" height="3" fill="#c9c9c9"/><text x="1022" y="2208">2609基差</text>
<rect x="1077" y="2202" width="20" height="3" fill="#1f3864"/><text x="1098" y="2208">2610基差</text>
<rect x="1154" y="2202" width="20" height="3" fill="#548235"/><text x="1175" y="2208">2612基差</text>
</g>
<g stroke="#ececec">
<line x1="666" y1="2242" x2="1205" y2="2242"/><line x1="666" y1="2288" x2="1205" y2="2288"/><line x1="666" y1="2334" x2="1205" y2="2334"/><line x1="666" y1="2380" x2="1205" y2="2380"/><line x1="666" y1="2425" x2="1205" y2="2425"/><line x1="666" y1="2470" x2="1205" y2="2470"/>
<line x1="711" y1="2230" x2="711" y2="2470"/><line x1="760" y1="2230" x2="760" y2="2470"/><line x1="807" y1="2230" x2="807" y2="2470"/><line x1="856" y1="2230" x2="856" y2="2470"/><line x1="904" y1="2230" x2="904" y2="2470"/><line x1="951" y1="2230" x2="951" y2="2470"/><line x1="998" y1="2230" x2="998" y2="2470"/><line x1="1046" y1="2230" x2="1046" y2="2470"/><line x1="1095" y1="2230" x2="1095" y2="2470"/><line x1="1144" y1="2230" x2="1144" y2="2470"/><line x1="1188" y1="2230" x2="1188" y2="2470"/>
</g>
<line x1="666" y1="2230" x2="666" y2="2470" stroke="#bbb"/>
<line x1="666" y1="2361" x2="1205" y2="2361" stroke="#444" stroke-width="1.3"/>
<g font-size="14" font-weight="bold" fill="#222" text-anchor="end">
<text x="650" y="2247">1,300</text><text x="650" y="2293">800</text><text x="650" y="2339">300</text><text x="650" y="2385">-200</text><text x="650" y="2430">-700</text><text x="650" y="2475">-1,200</text>
</g>
<g font-size="14" font-weight="bold" fill="#222" text-anchor="middle">
<text x="666" y="2492">4/20</text><text x="711" y="2492">5/20</text><text x="760" y="2492">6/20</text><text x="807" y="2492">7/20</text><text x="856" y="2492">8/20</text><text x="904" y="2492">9/20</text><text x="951" y="2492">10/20</text><text x="998" y="2492">11/20</text><text x="1046" y="2492">12/20</text><text x="1095" y="2492">1/20</text><text x="1144" y="2492">2/20</text><text x="1188" y="2492">3/20</text>
</g>
<g fill="none" stroke-width="2">
<polyline stroke="#595959" points="679,2337 687,2340 695,2343 701,2361 707,2362 714,2359 724,2357 734,2355 742,2325 754,2319 765,2290 777,2274 789,2262 797,2252 803,2258 808,2262 816,2266 824,2270 834,2274 844,2278 852,2282 859,2286 865,2290 871,2294 877,2310 883,2325 889,2340 895,2353 903,2357 911,2361 916,2368 922,2373 932,2369 942,2365 950,2363 958,2361 963,2352 967,2345 972,2351 977,2357 985,2329 990,2333 995,2337 1003,2320 1011,2306 1016,2314 1020,2321 1028,2318 1036,2314 1044,2310 1052,2306 1060,2302 1068,2298 1080,2292 1091,2286 1099,2290 1107,2294 1114,2302 1122,2310 1134,2320 1146,2329 1152,2350 1158,2373 1166,2377 1171,2371 1177,2365 1183,2369 1189,2373 1197,2361"/>
<polyline stroke="#997300" points="777,2288 789,2274 797,2266 803,2271 808,2276 816,2280 824,2284 834,2289 844,2294 852,2298 859,2302 865,2306 871,2310 877,2323 883,2337 889,2351 895,2365 903,2373 911,2381 916,2386 922,2391 932,2388 942,2385 950,2381 958,2377 967,2380 977,2381 981,2363 985,2345 990,2351 995,2357 1003,2339 1011,2321 1016,2329 1020,2337 1032,2335 1044,2333 1056,2327 1068,2321 1080,2311 1091,2302 1099,2308 1107,2314 1118,2324 1130,2333 1140,2345 1150,2357 1156,2377 1162,2397 1168,2405 1173,2412 1179,2399 1185,2385 1191,2375 1197,2365"/>
<polyline stroke="#9dc3e6" points="867,2325 873,2335 879,2345 887,2361 895,2377 906,2390 918,2402 930,2397 942,2392 950,2390 958,2389 967,2391 977,2393 981,2375 985,2357 990,2365 995,2373 1003,2355 1011,2337 1016,2345 1020,2353 1032,2351 1044,2349 1056,2341 1068,2333 1080,2325 1091,2316 1099,2322 1107,2329 1118,2341 1130,2353 1140,2365 1150,2377 1156,2402 1162,2428 1166,2442 1170,2456 1173,2446 1177,2436 1183,2432 1189,2428 1193,2410 1197,2391"/>
<polyline stroke="#c9c9c9" points="1130,2321 1140,2329 1150,2337 1156,2361 1162,2385 1170,2377 1177,2369 1187,2365 1197,2361"/>
<polyline stroke="#548235" points="1060,2319 1075,2313 1091,2306 1106,2319 1122,2333 1136,2341 1150,2349 1156,2371 1162,2393 1168,2397 1173,2400 1179,2392 1185,2385 1191,2375 1197,2365"/>
<polyline stroke="#1f3864" points="985,2325 997,2316 1009,2306 1014,2310 1020,2314 1030,2310 1040,2306 1050,2302 1060,2298 1070,2294 1080,2287 1091,2280 1099,2285 1107,2290 1118,2302 1130,2314 1142,2320 1154,2325 1158,2345 1162,2369 1168,2371 1173,2373 1179,2365 1185,2357 1191,2353 1197,2349"/>
<polyline stroke="#f4b183" points="1130,2367 1140,2376 1150,2385 1156,2410 1162,2436 1166,2448 1171,2460 1176,2450 1181,2440 1187,2444 1193,2448 1199,2436"/>
<polyline stroke="#5b9bd5" points="1162,2416 1166,2432 1171,2448 1178,2428 1185,2408 1191,2416 1197,2424"/>
</g>

<!-- ===== RMB vs SCFI (left r3) ===== -->
<text x="298" y="2519" font-size="20" text-anchor="middle" fill="#222">人民币即期汇率与SCFI走势</text>
<g font-size="12" fill="#333">
<rect x="24" y="2534" width="20" height="2" fill="#000"/><text x="48" y="2539">上海出口集装箱运价指数:综合指数</text>
<rect x="229" y="2534" width="24" height="2" fill="#ff0000"/><text x="259" y="2539">即期汇率:美元兑人民币(右轴)</text>
<rect x="420" y="2534" width="20" height="2" fill="#2f5597"/><text x="443" y="2539">即期汇率:欧元兑人民币(右轴)</text>
</g>
<line x1="47" y1="2565" x2="47" y2="2808" stroke="#888"/><line x1="567" y1="2565" x2="567" y2="2808" stroke="#888"/><line x1="47" y1="2808" x2="567" y2="2808" stroke="#888"/>
<g font-size="12" fill="#333" text-anchor="end"><text x="38" y="2592">5000</text><text x="38" y="2636">4000</text><text x="38" y="2680">3000</text><text x="38" y="2724">2000</text><text x="38" y="2767">1000</text><text x="38" y="2812">0</text></g>
<g font-size="12" fill="#333"><text x="577" y="2602">8.20</text><text x="577" y="2654">7.70</text><text x="577" y="2707">7.20</text><text x="577" y="2759">6.70</text><text x="577" y="2812">6.20</text></g>
<g font-size="12" fill="#333" text-anchor="middle"><text x="46" y="2826">2020-01-01</text><text x="130" y="2826">2021-01-01</text><text x="213" y="2826">2022-01-01</text><text x="298" y="2826">2023-01-01</text><text x="382" y="2826">2024-01-01</text><text x="465" y="2826">2025-01-01</text><text x="549" y="2826">2026-01-01</text></g>
<g fill="none" stroke-width="1.5">
<polyline stroke="#2f5597" points="47,2630 51,2645 55,2661 61,2650 67,2638 71,2642 75,2646 79,2630 82,2614 89,2602 96,2590 101,2602 106,2614 112,2620 118,2626 124,2624 130,2622 136,2630 141,2638 149,2642 157,2646 165,2650 173,2654 181,2658 188,2661 194,2669 200,2677 204,2689 208,2701 212,2702 220,2705 228,2711 235,2717 247,2728 259,2740 265,2728 271,2716 285,2698 298,2681 310,2671 322,2661 332,2640 341,2618 347,2626 353,2634 361,2638 369,2642 380,2641 392,2640 400,2635 408,2630 416,2632 424,2634 432,2638 440,2642 448,2648 455,2654 463,2660 471,2665 477,2660 483,2654 487,2626 491,2598 497,2590 502,2582 506,2578 510,2575 518,2580 526,2584 534,2587 542,2590 548,2594 553,2598 559,2610 565,2622"/>
<polyline stroke="#ff0000" points="47,2736 51,2722 55,2716 63,2714 71,2712 78,2708 84,2714 90,2720 96,2730 102,2740 110,2752 118,2763 124,2770 130,2775 138,2777 145,2779 155,2783 165,2787 173,2783 181,2779 188,2782 196,2785 204,2788 212,2791 220,2793 228,2795 232,2787 235,2779 239,2759 245,2750 251,2740 259,2736 267,2732 273,2724 279,2716 290,2716 300,2717 315,2716 330,2717 338,2705 345,2693 353,2691 361,2689 369,2697 377,2705 388,2703 400,2701 412,2698 424,2695 432,2700 440,2705 448,2703 455,2701 463,2696 471,2691 479,2690 487,2689 494,2694 502,2699 514,2701 526,2703 534,2707 542,2711 549,2724 555,2730 561,2736 567,2732"/>
<polyline stroke="#000" points="47,2763 59,2767 71,2770 79,2768 86,2767 94,2758 102,2749 110,2737 118,2724 126,2685 133,2681 139,2688 145,2693 151,2683 157,2673 163,2660 169,2646 176,2630 184,2614 190,2609 196,2604 202,2605 208,2606 213,2595 218,2584 223,2588 228,2592 234,2605 239,2618 245,2622 251,2626 255,2624 259,2622 263,2630 267,2638 271,2660 275,2681 279,2720 283,2724 290,2737 298,2751 306,2757 314,2763 330,2763 345,2763 355,2765 365,2767 378,2754 392,2740 398,2734 404,2728 410,2690 416,2654 420,2650 424,2645 428,2655 432,2665 436,2690 440,2717 444,2725 447,2732 455,2738 463,2743 467,2731 471,2720 475,2710 479,2702 487,2715 494,2728 502,2734 510,2740 518,2748 526,2755 534,2748 542,2740 547,2748 553,2757 559,2748 565,2740 567,2730"/>
</g>

<!-- ===== Commodity vs SCFI (right r3) ===== -->
<text x="916" y="2520" font-size="20" text-anchor="middle" fill="#222">商品指数与SCFI走势</text>
<g font-size="12" fill="#333">
<rect x="699" y="2533" width="24" height="2.5" fill="#ff0000"/><text x="726" y="2539">上海出口集装箱运价指数(SCFI):综合指数</text>
<rect x="1006" y="2533" width="24" height="2.5" fill="#000"/><text x="1032" y="2539">收盘价:Wind商品指数</text>
</g>
<line x1="650" y1="2550" x2="650" y2="2799" stroke="#888"/><line x1="1181" y1="2550" x2="1181" y2="2799" stroke="#888"/><line x1="650" y1="2799" x2="1181" y2="2799" stroke="#888"/>
<g font-size="12" fill="#333" text-anchor="end"><text x="640" y="2561">5000</text><text x="640" y="2609">4000</text><text x="640" y="2658">3000</text><text x="640" y="2707">2000</text><text x="640" y="2755">1000</text><text x="640" y="2803">0</text></g>
<g font-size="12" fill="#333"><text x="1192" y="2568">2,900</text><text x="1192" y="2592">2,700</text><text x="1192" y="2615">2,500</text><text x="1192" y="2639">2,300</text><text x="1192" y="2663">2,100</text><text x="1192" y="2686">1,900</text><text x="1192" y="2710">1,700</text><text x="1192" y="2733">1,500</text><text x="1192" y="2756">1,300</text><text x="1192" y="2780">1,100</text><text x="1192" y="2803">900</text></g>
<g font-size="12" fill="#333" text-anchor="middle"><text x="650" y="2817">2020-01-01</text><text x="735" y="2817">2021-01-01</text><text x="822" y="2817">2022-01-01</text><text x="907" y="2817">2023-01-01</text><text x="993" y="2817">2024-01-01</text><text x="1078" y="2817">2025-01-01</text><text x="1164" y="2817">2026-01-01</text></g>
<g fill="none" stroke-width="1.5">
<polyline stroke="#ff0000" points="651,2751 659,2753 667,2755 675,2756 683,2757 691,2754 699,2751 705,2747 710,2743 716,2738 722,2732 726,2705 730,2683 734,2661 742,2660 750,2669 757,2671 761,2661 765,2650 769,2636 773,2622 777,2612 781,2602 787,2590 793,2578 801,2574 808,2576 812,2571 816,2565 820,2559 824,2553 828,2556 832,2559 836,2567 840,2574 844,2582 848,2590 852,2593 856,2596 863,2594 867,2602 871,2610 875,2638 879,2662 883,2685 887,2703 891,2720 895,2726 899,2732 905,2740 911,2747 926,2751 942,2755 958,2753 973,2751 981,2746 989,2740 993,2693 999,2692 1005,2691 1011,2688 1016,2685 1022,2660 1028,2634 1032,2627 1036,2620 1040,2626 1044,2632 1048,2647 1052,2661 1056,2677 1060,2693 1066,2686 1071,2679 1077,2682 1083,2685 1087,2708 1091,2732 1099,2736 1107,2740 1115,2728 1122,2716 1130,2724 1138,2732 1146,2726 1154,2720 1162,2728 1170,2736 1176,2726 1181,2716"/>
<polyline stroke="#000" points="651,2779 659,2781 667,2783 671,2789 675,2795 681,2792 687,2789 695,2779 703,2769 710,2770 718,2771 728,2763 738,2755 746,2749 754,2743 760,2738 765,2732 771,2730 777,2728 785,2724 793,2720 798,2712 802,2704 805,2722 808,2740 816,2744 824,2747 832,2741 840,2736 848,2734 856,2732 862,2744 867,2755 877,2753 887,2751 899,2749 911,2747 926,2753 942,2759 954,2753 965,2747 977,2749 989,2751 1001,2746 1013,2740 1020,2736 1028,2732 1036,2738 1044,2743 1056,2742 1068,2740 1080,2736 1091,2732 1103,2720 1115,2708 1122,2700 1130,2693 1138,2687 1146,2681 1152,2668 1158,2654 1162,2634 1166,2614 1169,2580 1171,2551 1174,2575 1176,2598 1178,2614 1180,2630"/>
</g>

<!-- ===== New delivery capacity (left r4) ===== -->
<text x="305" y="2856" font-size="20" font-weight="bold" text-anchor="middle" fill="#404040">新交付运力</text>
<g font-size="14" fill="#595959">
<rect x="49" y="2866" width="22" height="10" fill="#f4b183"/><text x="74" y="2876">&gt;18,000数量</text>
<rect x="239" y="2866" width="22" height="10" fill="#c9c9c9"/><text x="265" y="2876">15,200-17,999数量</text>
<rect x="432" y="2866" width="22" height="10" fill="#ffd966"/><text x="457" y="2876">12,500-15,199数量</text>
<rect x="49" y="2888" width="24" height="4" fill="#000"/><text x="74" y="2895">&gt;18,000</text>
<rect x="239" y="2888" width="24" height="4" fill="#ff0000"/><text x="265" y="2895">15,200-17,999</text>
<rect x="432" y="2888" width="24" height="4" fill="#ed7d31"/><text x="457" y="2895">12,500-15,199</text>
</g>
<g stroke="#e3e3e3">
<line x1="67" y1="2908" x2="577" y2="2908"/><line x1="67" y1="2948" x2="577" y2="2948"/><line x1="67" y1="2988" x2="577" y2="2988"/><line x1="67" y1="3028" x2="577" y2="3028"/><line x1="67" y1="3068" x2="577" y2="3068"/><line x1="67" y1="3108" x2="577" y2="3108"/>
<line x1="67" y1="2908" x2="67" y2="3147"/><line x1="169" y1="2908" x2="169" y2="3147"/><line x1="271" y1="2908" x2="271" y2="3147"/><line x1="373" y1="2908" x2="373" y2="3147"/><line x1="475" y1="2908" x2="475" y2="3147"/><line x1="577" y1="2908" x2="577" y2="3147"/>
</g>
<g stroke="#f3f3f3"><line x1="67" y1="2928" x2="577" y2="2928"/><line x1="67" y1="2968" x2="577" y2="2968"/><line x1="67" y1="3008" x2="577" y2="3008"/><line x1="67" y1="3048" x2="577" y2="3048"/><line x1="67" y1="3088" x2="577" y2="3088"/><line x1="67" y1="3128" x2="577" y2="3128"/></g>
<line x1="67" y1="3147" x2="577" y2="3147" stroke="#ccc"/>
<g font-size="13" fill="#595959" text-anchor="end"><text x="54" y="2912">1,200,000</text><text x="54" y="2952">1,000,000</text><text x="54" y="2992">800,000</text><text x="54" y="3032">600,000</text><text x="54" y="3072">400,000</text><text x="54" y="3112">200,000</text><text x="54" y="3151">0</text></g>
<g font-size="13" fill="#595959"><text x="587" y="2912">70</text><text x="587" y="2946">60</text><text x="587" y="2981">50</text><text x="587" y="3015">40</text><text x="587" y="3049">30</text><text x="587" y="3083">20</text><text x="587" y="3117">10</text><text x="587" y="3151">0</text></g>
<g font-size="16" font-weight="bold" fill="#595959" text-anchor="middle"><text x="119" y="3169">2023</text><text x="220" y="3169">2024</text><text x="322" y="3169">2025</text><text x="424" y="3169">2026</text><text x="525" y="3169">2027</text></g>
<g>
<rect x="85" y="3049" width="23" height="98" fill="#f4b183"/><rect x="108" y="3004" width="22" height="143" fill="#c9c9c9"/><rect x="130" y="3097" width="22" height="50" fill="#ffd966"/>
<rect x="186" y="3106" width="23" height="41" fill="#f4b183"/><rect x="209" y="2925" width="23" height="222" fill="#c9c9c9"/><rect x="232" y="3024" width="22" height="123" fill="#ffd966"/>
<rect x="288" y="3127" width="23" height="20" fill="#f4b183"/><rect x="311" y="2936" width="23" height="211" fill="#c9c9c9"/><rect x="334" y="3049" width="22" height="98" fill="#ffd966"/>
<rect x="390" y="3120" width="22" height="27" fill="#f4b183"/><rect x="412" y="3103" width="22" height="44" fill="#c9c9c9"/><rect x="434" y="3035" width="23" height="112" fill="#ffd966"/>
<rect x="491" y="2997" width="23" height="150" fill="#f4b183"/><rect x="514" y="3045" width="23" height="102" fill="#c9c9c9"/><rect x="537" y="3018" width="22" height="129" fill="#ffd966"/>
</g>
<g fill="none" stroke-width="3">
<polyline stroke="#ed7d31" points="118,3107 220,3050 322,3068 424,3056 524,3045"/>
<polyline stroke="#000" points="118,3008 220,3089 322,3119 424,3109 524,2956"/>
<polyline stroke="#ff0000" points="118,3016 220,2941 322,2948 424,3107 524,3050"/>
</g>

<!-- ===== GCSP (right r4) ===== -->
<text x="925" y="2855" font-size="20" font-weight="bold" text-anchor="middle" fill="#111">GCSP到离港准班率</text>
<g font-size="10" fill="#444">
<rect x="626" y="2865" width="21" height="3" fill="#ff0000"/><text x="648" y="2869">GCSP:综合准班率指数</text>
<rect x="824" y="2865" width="21" height="3" fill="#000"/><text x="845" y="2869">GCSP:收发货服务准班率指数</text>
<rect x="1021" y="2865" width="21" height="3" fill="#ffc000"/><text x="1043" y="2869">GCSP:到离港服务准班率指数</text>
<rect x="626" y="2878" width="21" height="3" fill="#9dc3e6"/><text x="648" y="2882">GCSP:到离港服务准班率:亚洲-欧洲</text>
<rect x="824" y="2878" width="21" height="3" fill="#767171"/><text x="845" y="2882">GCSP:到离港服务准班率:亚洲-地中海</text>
<rect x="1021" y="2878" width="21" height="3" fill="#e6a3a3"/><text x="1043" y="2882">GCSP:到离港服务准班率:亚洲-美西</text>
<rect x="626" y="2891" width="21" height="3" fill="#92c47d"/><text x="648" y="2895">GCSP:港口准班率:新加坡</text>
</g>
<g stroke="#ececec">
<line x1="650.5" y1="2899" x2="650.5" y2="3119"/><line x1="667.5" y1="2899" x2="667.5" y2="3119"/><line x1="684.4" y1="2899" x2="684.4" y2="3119"/><line x1="701.4" y1="2899" x2="701.4" y2="3119"/><line x1="718.3" y1="2899" x2="718.3" y2="3119"/><line x1="735.3" y1="2899" x2="735.3" y2="3119"/><line x1="752.2" y1="2899" x2="752.2" y2="3119"/><line x1="769.2" y1="2899" x2="769.2" y2="3119"/><line x1="786.1" y1="2899" x2="786.1" y2="3119"/><line x1="803.1" y1="2899" x2="803.1" y2="3119"/><line x1="820" y1="2899" x2="820" y2="3119"/><line x1="837" y1="2899" x2="837" y2="3119"/><line x1="853.9" y1="2899" x2="853.9" y2="3119"/><line x1="870.9" y1="2899" x2="870.9" y2="3119"/><line x1="887.8" y1="2899" x2="887.8" y2="3119"/><line x1="904.8" y1="2899" x2="904.8" y2="3119"/><line x1="921.7" y1="2899" x2="921.7" y2="3119"/><line x1="938.7" y1="2899" x2="938.7" y2="3119"/><line x1="955.6" y1="2899" x2="955.6" y2="3119"/><line x1="972.6" y1="2899" x2="972.6" y2="3119"/><line x1="989.5" y1="2899" x2="989.5" y2="3119"/><line x1="1006.5" y1="2899" x2="1006.5" y2="3119"/><line x1="1023.4" y1="2899" x2="1023.4" y2="3119"/><line x1="1040.4" y1="2899" x2="1040.4" y2="3119"/><line x1="1057.3" y1="2899" x2="1057.3" y2="3119"/><line x1="1074.3" y1="2899" x2="1074.3" y2="3119"/><line x1="1091.2" y1="2899" x2="1091.2" y2="3119"/><line x1="1108.2" y1="2899" x2="1108.2" y2="3119"/><line x1="1125.1" y1="2899" x2="1125.1" y2="3119"/><line x1="1142.1" y1="2899" x2="1142.1" y2="3119"/><line x1="1159" y1="2899" x2="1159" y2="3119"/><line x1="1176" y1="2899" x2="1176" y2="3119"/><line x1="1192.9" y1="2899" x2="1192.9" y2="3119"/><line x1="1209.9" y1="2899" x2="1209.9" y2="3119"/>
</g>
<line x1="645" y1="3119" x2="1215" y2="3119" stroke="#ccc"/>
<g font-size="12" font-weight="bold" fill="#222" text-anchor="end"><text x="637" y="2903">90</text><text x="637" y="2927">80</text><text x="637" y="2952">70</text><text x="637" y="2976">60</text><text x="637" y="3001">50</text><text x="637" y="3025">40</text><text x="637" y="3050">30</text><text x="637" y="3074">20</text><text x="637" y="3099">10</text><text x="637" y="3123">0</text></g>
<g transform="translate(611,3119) scale(0.3954,-2.444)" fill="none" stroke-width="1.6">
<polyline class="ns" vector-effect="non-scaling-stroke" stroke="#9dc3e6" points="100,66 125,46 150,60 175,74 200,77 225,82 255,60 270,55 310,35 345,25 380,18 425,11 465,16 490,12 510,15 550,8.5 590,12 635,16 660,12 710,19 740,16 765,24 790,21 830,27 850,35 870,32 915,45 950,52 975,53 1005,48 1040,53 1070,47 1090,40 1105,35 1130,7.5 1150,10 1170,15 1200,17 1230,20 1260,22 1290,25 1320,30 1340,27 1365,28 1390,22 1410,22 1440,25 1465,35 1495,43 1515,34"/>
<polyline class="ns" vector-effect="non-scaling-stroke" stroke="#767171" points="100,55 125,58 140,55 160,62 185,75 210,70 240,60 265,43 290,38 320,30 345,25 370,18 390,18 410,20 420,15 445,22 460,27 480,18 510,15 555,14 575,9.5 595,12 630,25 650,27 670,26 700,29 725,30 745,23 765,30 795,36 820,40 840,45 860,44 885,38 905,43 935,48 955,52 975,50 1000,48 1030,52 1060,60 1090,55 1105,45 1130,12 1155,8 1170,13 1190,15 1215,19 1235,17 1260,20 1285,17 1300,18 1325,22 1360,25 1390,21 1410,22 1420,18 1445,26 1470,30 1515,31"/>
<polyline class="ns" vector-effect="non-scaling-stroke" stroke="#e6a3a3" points="100,55 120,47 150,58 180,70 200,75 215,72 250,60 275,40 300,33 330,30 345,20 360,9 385,12 410,16 440,20 460,23 490,16 505,11 520,15 560,15 590,12 625,11 650,15 670,16 700,20 730,25 760,28 780,24 795,22 810,30 835,32 850,34 875,20 895,35 920,44 945,48 960,50 985,42 1020,40 1050,44 1075,47 1090,45 1105,40 1140,30 1175,40 1200,46 1240,48.5 1270,48 1295,44 1315,40 1340,36 1365,33 1385,27 1410,36 1440,43 1465,52 1495,64 1515,56"/>
<polyline class="ns" vector-effect="non-scaling-stroke" stroke="#92c47d" points="100,65 115,64 150,73 165,73 185,79 205,65 225,73 250,50 275,40 295,30 315,18 330,25 360,20 380,14 400,28 425,20 445,13 460,20 490,8.5 515,16 545,14 575,20 600,28 625,28 650,33 680,38 700,39 730,29 745,25 770,35 800,45 830,50 850,60 870,47 895,68 915,63 940,48 955,55 975,34 1000,59 1020,59 1045,61 1065,62 1095,50 1110,41 1130,35 1150,30 1170,27 1205,18 1215,16.5 1240,20 1270,30 1295,34 1320,45 1345,54 1370,48 1395,35 1420,35 1450,44 1480,42 1515,38"/>
<polyline class="ns" vector-effect="non-scaling-stroke" stroke="#ffc000" points="100,57 115,52 125,54 142,60 160,65 185,68 200,68 215,68 230,58 250,46 265,40 285,38 300,33 320,30 345,21 365,20 385,21 400,22 420,20 440,21 465,22 485,16 510,15 545,15 570,15 600,21 635,25 670,24 715,27 740,24 765,29 790,29 805,31 825,35 850,38 870,33 895,40 915,46 935,46 960,50 980,46 1000,45 1040,48 1065,49.5 1080,46 1105,40 1125,30 1150,26 1170,31 1195,30 1215,30 1250,30 1275,29 1300,30.5 1340,31 1365,34 1385,29 1410,30.5 1440,33 1470,38 1485,42 1500,43 1515,42"/>
<polyline class="ns" vector-effect="non-scaling-stroke" stroke="#ff0000" points="100,59 115,56 125,57 142,65 160,71 185,74 200,70 215,71 230,60 250,48 265,41 285,39 300,35 320,30 345,23 365,21 385,26 400,25 420,23 440,24 465,22 485,17 510,17 545,17 570,18 600,23 635,28 670,28 715,30 740,27 765,35 790,35 805,37 825,41 850,44 870,38 895,50 915,52 935,50 960,55 980,50 1000,51 1040,52 1065,55 1080,48 1105,42 1125,34 1150,32 1170,38 1195,33 1215,35 1250,35 1275,34 1300,35 1340,37 1365,37 1385,32 1410,36 1440,39 1470,45 1485,47.5 1500,47 1515,45"/>
<polyline class="ns" vector-effect="non-scaling-stroke" stroke="#000" points="100,61.5 115,60.5 125,64 142,72 160,77 185,78 200,71 215,72 230,60 250,50 265,43 285,42 300,37 320,31 345,25 365,22.5 385,25 400,30 420,26 440,24.5 465,23 485,19 510,19 545,20 570,21 600,25 635,31 670,32 715,33 740,30 765,40 790,40 805,43 825,46 850,49 870,42 895,59 915,58 935,55 960,61 980,54 1000,57 1040,57 1065,60 1080,55 1105,45 1125,43 1150,39 1170,45 1195,37 1215,40 1250,38 1275,40 1300,37 1340,42 1365,40 1385,36 1410,40 1440,44 1470,51 1485,53 1500,50 1515,48"/>
</g>
<g font-size="11" fill="#333" text-anchor="end">
<text transform="translate(654.5,3126) rotate(-90)">2020-01</text><text transform="translate(671.5,3126) rotate(-90)">2020-03</text><text transform="translate(688.4,3126) rotate(-90)">2020-05</text><text transform="translate(705.4,3126) rotate(-90)">2020-07</text><text transform="translate(722.3,3126) rotate(-90)">2020-09</text><text transform="translate(739.3,3126) rotate(-90)">2020-11</text><text transform="translate(756.2,3126) rotate(-90)">2021-01</text><text transform="translate(773.2,3126) rotate(-90)">2021-03</text><text transform="translate(790.1,3126) rotate(-90)">2021-05</text><text transform="translate(807.1,3126) rotate(-90)">2021-07</text><text transform="translate(824,3126) rotate(-90)">2021-09</text><text transform="translate(841,3126) rotate(-90)">2021-11</text><text transform="translate(857.9,3126) rotate(-90)">2022-01</text><text transform="translate(874.9,3126) rotate(-90)">2022-03</text><text transform="translate(891.8,3126) rotate(-90)">2022-05</text><text transform="translate(908.8,3126) rotate(-90)">2022-07</text><text transform="translate(925.7,3126) rotate(-90)">2022-09</text><text transform="translate(942.7,3126) rotate(-90)">2022-11</text><text transform="translate(959.6,3126) rotate(-90)">2023-01</text><text transform="translate(976.6,3126) rotate(-90)">2023-03</text><text transform="translate(993.5,3126) rotate(-90)">2023-05</text><text transform="translate(1010.5,3126) rotate(-90)">2023-07</text><text transform="translate(1027.4,3126) rotate(-90)">2023-09</text><text transform="translate(1044.4,3126) rotate(-90)">2023-11</text><text transform="translate(1061.3,3126) rotate(-90)">2024-01</text><text transform="translate(1078.3,3126) rotate(-90)">2024-03</text><text transform="translate(1095.2,3126) rotate(-90)">2024-05</text><text transform="translate(1112.2,3126) rotate(-90)">2024-07</text><text transform="translate(1129.1,3126) rotate(-90)">2024-09</text><text transform="translate(1146.1,3126) rotate(-90)">2024-11</text><text transform="translate(1163,3126) rotate(-90)">2025-01</text><text transform="translate(1180,3126) rotate(-90)">2025-03</text><text transform="translate(1196.9,3126) rotate(-90)">2025-05</text><text transform="translate(1213.9,3126) rotate(-90)">2025-07</text>
</g>

<!-- ===== New three exports (left r5) ===== -->
<text x="320" y="3196" font-size="20" text-anchor="middle" fill="#333">中国新三样出口</text>
<g font-size="11" fill="#333">
<rect x="8" y="3208" width="20" height="10" fill="#92d050"/><text x="31" y="3217">中国:出口金额:汽车包括底盘:累计值:亿</text>
<rect x="208" y="3208" width="20" height="10" fill="#ff0000"/><text x="231" y="3217">中国:出口金额:电动载人汽车:累计值:亿</text>
<rect x="408" y="3208" width="20" height="10" fill="#5b9bd5"/><text x="431" y="3217">中国:出口金额:集成电路:累计值:亿</text>
<rect x="8" y="3233" width="21" height="3" fill="#ff0000"/><text x="31" y="3239">中国:出口金额:汽车包括底盘:累计同比</text>
<rect x="208" y="3233" width="21" height="3" fill="#0070c0"/><text x="231" y="3239">中国:出口金额:电动载人汽车:累计同比</text>
<rect x="408" y="3233" width="21" height="3" fill="#000"/><text x="431" y="3239">中国:出口金额:集成电路:累计同比</text>
</g>
<g stroke="#ececec">
<line x1="52" y1="3265" x2="577" y2="3265"/><line x1="52" y1="3295" x2="577" y2="3295"/><line x1="52" y1="3324" x2="577" y2="3324"/><line x1="52" y1="3354" x2="577" y2="3354"/><line x1="52" y1="3383" x2="577" y2="3383"/><line x1="52" y1="3413" x2="577" y2="3413"/><line x1="52" y1="3442" x2="577" y2="3442"/>
<line x1="77.9" y1="3250" x2="77.9" y2="3471"/><line x1="111.8" y1="3250" x2="111.8" y2="3471"/><line x1="145.7" y1="3250" x2="145.7" y2="3471"/><line x1="179.5" y1="3250" x2="179.5" y2="3471"/><line x1="213.4" y1="3250" x2="213.4" y2="3471"/><line x1="247.2" y1="3250" x2="247.2" y2="3471"/><line x1="281.1" y1="3250" x2="281.1" y2="3471"/><line x1="315" y1="3250" x2="315" y2="3471"/><line x1="348.8" y1="3250" x2="348.8" y2="3471"/><line x1="382.7" y1="3250" x2="382.7" y2="3471"/><line x1="416.5" y1="3250" x2="416.5" y2="3471"/><line x1="450.4" y1="3250" x2="450.4" y2="3471"/><line x1="484.3" y1="3250" x2="484.3" y2="3471"/><line x1="518.1" y1="3250" x2="518.1" y2="3471"/><line x1="552" y1="3250" x2="552" y2="3471"/>
</g>
<line x1="52" y1="3471" x2="577" y2="3471" stroke="#bbb"/>
<g font-size="12" fill="#333" text-anchor="end"><text x="48" y="3269">1,400</text><text x="48" y="3299">1,200</text><text x="48" y="3328">1,000</text><text x="48" y="3358">800</text><text x="48" y="3387">600</text><text x="48" y="3417">400</text><text x="48" y="3446">200</text><text x="48" y="3475">0</text></g>
<g font-size="12" fill="#333"><text x="583" y="3254">200</text><text x="583" y="3299">150</text><text x="583" y="3342">100</text><text x="583" y="3387">50</text><text x="583" y="3431">0</text><text x="583" y="3475">-50</text></g>
<g>
<g fill="#92d050">
<rect x="54" y="3459" width="4" height="12"/><rect x="70.9" y="3449" width="4" height="22"/><rect x="87.9" y="3439" width="4" height="32"/><rect x="104.8" y="3427" width="4" height="44"/><rect x="121.7" y="3414" width="4" height="57"/><rect x="138.7" y="3402" width="4" height="69"/><rect x="155.6" y="3390" width="4" height="81"/><rect x="172.5" y="3377" width="4" height="94"/><rect x="189.4" y="3364" width="4" height="107"/><rect x="206.4" y="3349" width="4" height="122"/><rect x="223.3" y="3334" width="4" height="137"/><rect x="240.2" y="3321" width="4" height="150"/>
<rect x="257.2" y="3458" width="4" height="13"/><rect x="274.1" y="3447" width="4" height="24"/><rect x="291" y="3433" width="4" height="38"/><rect x="308" y="3420" width="4" height="51"/><rect x="324.9" y="3403" width="4" height="68"/><rect x="341.8" y="3390" width="4" height="81"/><rect x="358.7" y="3375" width="4" height="96"/><rect x="375.7" y="3359" width="4" height="112"/><rect x="392.6" y="3342" width="4" height="129"/><rect x="409.5" y="3327" width="4" height="144"/><rect x="426.5" y="3311" width="4" height="160"/><rect x="443.4" y="3297" width="4" height="174"/>
<rect x="460.3" y="3459" width="4" height="12"/><rect x="477.3" y="3446" width="4" height="25"/><rect x="494.2" y="3433" width="4" height="38"/><rect x="511.1" y="3420" width="4" height="51"/><rect x="528" y="3400" width="4" height="71"/><rect x="545" y="3383" width="4" height="88"/><rect x="561.9" y="3365" width="4" height="106"/>
</g>
<g fill="#ff0000">
<rect x="58.5" y="3467" width="4" height="4"/><rect x="75.4" y="3462" width="4" height="9"/><rect x="92.4" y="3456" width="4" height="15"/><rect x="109.3" y="3452" width="4" height="19"/><rect x="126.2" y="3446" width="4" height="25"/><rect x="143.2" y="3443" width="4" height="28"/><rect x="160.1" y="3439" width="4" height="32"/><rect x="177" y="3433" width="4" height="38"/><rect x="193.9" y="3427" width="4" height="44"/><rect x="210.9" y="3421" width="4" height="50"/><rect x="227.8" y="3414" width="4" height="57"/><rect x="244.7" y="3409" width="4" height="62"/>
<rect x="261.7" y="3465" width="4" height="6"/><rect x="278.6" y="3461" width="4" height="10"/><rect x="295.5" y="3455" width="4" height="16"/><rect x="312.5" y="3447" width="4" height="24"/><rect x="329.4" y="3440" width="4" height="31"/><rect x="346.3" y="3436" width="4" height="35"/><rect x="363.2" y="3430" width="4" height="41"/><rect x="380.2" y="3424" width="4" height="47"/><rect x="397.1" y="3418" width="4" height="53"/><rect x="414" y="3412" width="4" height="59"/><rect x="431" y="3408" width="4" height="63"/><rect x="447.9" y="3402" width="4" height="69"/>
<rect x="464.8" y="3465" width="4" height="6"/><rect x="481.8" y="3460" width="4" height="11"/><rect x="498.7" y="3453" width="4" height="18"/><rect x="515.6" y="3446" width="4" height="25"/><rect x="532.5" y="3436" width="4" height="35"/><rect x="549.5" y="3428" width="4" height="43"/><rect x="566.4" y="3420" width="4" height="51"/>
</g>
<g fill="#5b9bd5">
<rect x="63" y="3456" width="4" height="15"/><rect x="79.9" y="3443" width="4" height="28"/><rect x="96.9" y="3424" width="4" height="47"/><rect x="113.8" y="3409" width="4" height="62"/><rect x="130.7" y="3393" width="4" height="78"/><rect x="147.7" y="3378" width="4" height="93"/><rect x="164.6" y="3362" width="4" height="109"/><rect x="181.5" y="3346" width="4" height="125"/><rect x="198.4" y="3327" width="4" height="144"/><rect x="215.4" y="3309" width="4" height="162"/><rect x="232.3" y="3290" width="4" height="181"/><rect x="249.2" y="3271" width="4" height="200"/>
<rect x="266.2" y="3453" width="4" height="18"/><rect x="283.1" y="3437" width="4" height="34"/><rect x="300" y="3417" width="4" height="54"/><rect x="317" y="3397" width="4" height="74"/><rect x="333.9" y="3378" width="4" height="93"/><rect x="350.8" y="3359" width="4" height="112"/><rect x="367.7" y="3339" width="4" height="132"/><rect x="384.7" y="3318" width="4" height="153"/><rect x="401.6" y="3297" width="4" height="174"/><rect x="418.5" y="3277" width="4" height="194"/><rect x="435.5" y="3256" width="4" height="215"/><rect x="452.4" y="3250" width="4" height="221"/>
<rect x="469.3" y="3452" width="4" height="19"/><rect x="486.3" y="3434" width="4" height="37"/><rect x="503.2" y="3411" width="4" height="60"/><rect x="520.1" y="3389" width="4" height="82"/><rect x="537" y="3364" width="4" height="107"/><rect x="554" y="3339" width="4" height="132"/><rect x="570.9" y="3312" width="4" height="159"/>
</g>
</g>
<g fill="none" stroke-width="2.5">
<polyline stroke="#ff0000" points="52,3366 63,3373 78,3370 94,3355 114,3336 133,3332 145,3332 165,3336 181,3345 200,3352 216,3357 232,3364 247,3365 263,3412 279,3416 298,3411 330,3409 369,3411 392,3409 424,3411 447,3414 471,3423 494,3425 518,3424 542,3420 567,3417"/>
<polyline stroke="#0070c0" points="52,3334 63,3355 78,3358 94,3334 110,3296 126,3291 145,3282 161,3293 177,3320 181,3324 196,3334 212,3343 228,3359 247,3362 263,3415 279,3423 298,3411 314,3404 338,3407 377,3408 408,3411 451,3414 467,3423 479,3423 502,3423 526,3413 549,3408 567,3405"/>
<polyline stroke="#000" points="52,3440 61,3461 78,3449 94,3442 114,3440 130,3443 157,3443 196,3440 228,3438 247,3437 263,3389 281,3406 298,3410 330,3410 353,3408 392,3408 432,3411 451,3413 467,3425 483,3417 502,3418 526,3413 549,3410 567,3409"/>
</g>
<g font-size="11" fill="#333" text-anchor="end">
<text transform="translate(65,3478) rotate(-90)">23-01</text><text transform="translate(81.9,3478) rotate(-90)">23-02</text><text transform="translate(98.9,3478) rotate(-90)">23-03</text><text transform="translate(115.8,3478) rotate(-90)">23-04</text><text transform="translate(132.7,3478) rotate(-90)">23-05</text><text transform="translate(149.7,3478) rotate(-90)">23-06</text><text transform="translate(166.6,3478) rotate(-90)">23-07</text><text transform="translate(183.5,3478) rotate(-90)">23-08</text><text transform="translate(200.4,3478) rotate(-90)">23-09</text><text transform="translate(217.4,3478) rotate(-90)">23-10</text><text transform="translate(234.3,3478) rotate(-90)">23-11</text><text transform="translate(251.2,3478) rotate(-90)">23-12</text><text transform="translate(268.2,3478) rotate(-90)">24-01</text><text transform="translate(285.1,3478) rotate(-90)">24-02</text><text transform="translate(302,3478) rotate(-90)">24-03</text><text transform="translate(319,3478) rotate(-90)">24-04</text><text transform="translate(335.9,3478) rotate(-90)">24-05</text><text transform="translate(352.8,3478) rotate(-90)">24-06</text><text transform="translate(369.7,3478) rotate(-90)">24-07</text><text transform="translate(386.7,3478) rotate(-90)">24-08</text><text transform="translate(403.6,3478) rotate(-90)">24-09</text><text transform="translate(420.5,3478) rotate(-90)">24-10</text><text transform="translate(437.5,3478) rotate(-90)">24-11</text><text transform="translate(454.4,3478) rotate(-90)">24-12</text><text transform="translate(471.3,3478) rotate(-90)">25-01</text><text transform="translate(488.3,3478) rotate(-90)">25-02</text><text transform="translate(505.2,3478) rotate(-90)">25-03</text><text transform="translate(522.1,3478) rotate(-90)">25-04</text><text transform="translate(539,3478) rotate(-90)">25-05</text><text transform="translate(556,3478) rotate(-90)">25-06</text><text transform="translate(572.9,3478) rotate(-90)">25-07</text>
</g>

<!-- ===== Port container throughput (right r5) ===== -->
<text x="929" y="3193" font-size="20" font-weight="bold" text-anchor="middle" fill="#222">港口集装箱吞吐量</text>
<g font-size="10" fill="#333">
<rect x="679" y="3202" width="20" height="8" fill="#f4b183"/><text x="702" y="3210">中国:港口:集装箱吞吐量:当月值</text>
<rect x="987" y="3202" width="20" height="8" fill="#9dc3e6"/><text x="1010" y="3210">中国:沿海:集装箱吞吐量:当月值</text>
<rect x="679" y="3216" width="20" height="3" fill="#ff0000"/><text x="702" y="3221">全国主要港口:集装箱吞吐量:当月同比</text>
<rect x="987" y="3216" width="20" height="3" fill="#000"/><text x="1010" y="3221">集装箱吞吐量:沿海合计:当月同比</text>
</g>
<g stroke="#ececec"><line x1="661" y1="3232" x2="1207" y2="3232"/><line x1="661" y1="3265" x2="1207" y2="3265"/><line x1="661" y1="3299" x2="1207" y2="3299"/><line x1="661" y1="3332" x2="1207" y2="3332"/><line x1="661" y1="3366" x2="1207" y2="3366"/><line x1="661" y1="3399" x2="1207" y2="3399"/><line x1="661" y1="3432" x2="1207" y2="3432"/></g>
<line x1="661" y1="3465" x2="1207" y2="3465" stroke="#bbb"/>
<g font-size="13" fill="#333" text-anchor="end"><text x="655" y="3236">3,500</text><text x="655" y="3269">3,000</text><text x="655" y="3303">2,500</text><text x="655" y="3336">2,000</text><text x="655" y="3370">1,500</text><text x="655" y="3403">1,000</text><text x="655" y="3436">500</text><text x="655" y="3469">0</text></g>
<g font-size="13" fill="#333"><text x="1207" y="3236">12</text><text x="1207" y="3275">10</text><text x="1207" y="3314">8</text><text x="1207" y="3353">6</text><text x="1207" y="3392">4</text><text x="1207" y="3431">2</text><text x="1207" y="3470">0</text></g>
<g fill="#f4b183">
<rect x="664.5" y="3308.5" width="4" height="156.5"/><rect x="675.9" y="3325.1" width="4" height="139.9"/><rect x="687.2" y="3301.8" width="4" height="163.2"/><rect x="698.6" y="3311.8" width="4" height="153.2"/><rect x="709.9" y="3298.5" width="4" height="166.5"/><rect x="721.3" y="3295.2" width="4" height="169.8"/><rect x="732.6" y="3291.8" width="4" height="173.2"/><rect x="744" y="3288.5" width="4" height="176.5"/><rect x="755.3" y="3295.2" width="4" height="169.8"/><rect x="766.7" y="3298.5" width="4" height="166.5"/><rect x="778" y="3301.8" width="4" height="163.2"/><rect x="789.4" y="3298.5" width="4" height="166.5"/>
<rect x="823.4" y="3285.2" width="4" height="179.8"/><rect x="834.8" y="3288.5" width="4" height="176.5"/><rect x="846.1" y="3285.2" width="4" height="179.8"/><rect x="857.5" y="3281.9" width="4" height="183.1"/><rect x="868.8" y="3278.5" width="4" height="186.5"/><rect x="880.2" y="3281.9" width="4" height="183.1"/><rect x="891.5" y="3285.2" width="4" height="179.8"/><rect x="902.9" y="3278.5" width="4" height="186.5"/><rect x="914.2" y="3288.5" width="4" height="176.5"/><rect x="925.6" y="3291.8" width="4" height="173.2"/>
<rect x="959.6" y="3275.2" width="4" height="189.8"/><rect x="971" y="3271.9" width="4" height="193.1"/><rect x="982.3" y="3268.5" width="4" height="196.5"/><rect x="993.7" y="3271.9" width="4" height="193.1"/><rect x="1005" y="3265.2" width="4" height="199.8"/><rect x="1016.4" y="3268.5" width="4" height="196.5"/><rect x="1027.7" y="3271.9" width="4" height="193.1"/><rect x="1039.1" y="3265.2" width="4" height="199.8"/><rect x="1050.4" y="3275.2" width="4" height="189.8"/><rect x="1061.8" y="3278.5" width="4" height="186.5"/>
<rect x="1095.8" y="3261.9" width="4" height="203.1"/><rect x="1107.2" y="3258.5" width="4" height="206.5"/><rect x="1118.5" y="3255.2" width="4" height="209.8"/><rect x="1129.9" y="3258.5" width="4" height="206.5"/><rect x="1141.2" y="3248.6" width="4" height="216.4"/><rect x="1152.6" y="3255.2" width="4" height="209.8"/><rect x="1163.9" y="3258.5" width="4" height="206.5"/><rect x="1175.3" y="3251.9" width="4" height="213.1"/><rect x="1186.6" y="3261.9" width="4" height="203.1"/><rect x="1198" y="3255.2" width="4" height="209.8"/>
</g>
<g fill="#9dc3e6">
<rect x="668.5" y="3321.8" width="4" height="143.2"/><rect x="679.9" y="3351.8" width="4" height="113.2"/><rect x="691.2" y="3315.2" width="4" height="149.8"/><rect x="702.6" y="3325.1" width="4" height="139.9"/><rect x="713.9" y="3311.8" width="4" height="153.2"/><rect x="725.3" y="3308.5" width="4" height="156.5"/><rect x="736.6" y="3305.2" width="4" height="159.8"/><rect x="748" y="3301.8" width="4" height="163.2"/><rect x="759.3" y="3308.5" width="4" height="156.5"/><rect x="770.7" y="3311.8" width="4" height="153.2"/><rect x="782" y="3315.2" width="4" height="149.8"/><rect x="793.4" y="3311.8" width="4" height="153.2"/>
<rect x="827.4" y="3301.8" width="4" height="163.2"/><rect x="838.8" y="3305.2" width="4" height="159.8"/><rect x="850.1" y="3301.8" width="4" height="163.2"/><rect x="861.5" y="3298.5" width="4" height="166.5"/><rect x="872.8" y="3295.2" width="4" height="169.8"/><rect x="884.2" y="3298.5" width="4" height="166.5"/><rect x="895.5" y="3301.8" width="4" height="163.2"/><rect x="906.9" y="3295.2" width="4" height="169.8"/><rect x="918.2" y="3305.2" width="4" height="159.8"/><rect x="929.6" y="3308.5" width="4" height="156.5"/>
<rect x="963.6" y="3295.2" width="4" height="169.8"/><rect x="975" y="3291.8" width="4" height="173.2"/><rect x="986.3" y="3288.5" width="4" height="176.5"/><rect x="997.7" y="3291.8" width="4" height="173.2"/><rect x="1009" y="3285.2" width="4" height="179.8"/><rect x="1020.4" y="3288.5" width="4" height="176.5"/><rect x="1031.7" y="3291.8" width="4" height="173.2"/><rect x="1043.1" y="3285.2" width="4" height="179.8"/><rect x="1054.4" y="3295.2" width="4" height="169.8"/><rect x="1065.8" y="3298.5" width="4" height="166.5"/>
<rect x="1099.8" y="3285.2" width="4" height="179.8"/><rect x="1111.2" y="3281.9" width="4" height="183.1"/><rect x="1122.5" y="3278.5" width="4" height="186.5"/><rect x="1133.9" y="3281.9" width="4" height="183.1"/><rect x="1145.2" y="3275.2" width="4" height="189.8"/><rect x="1156.6" y="3278.5" width="4" height="186.5"/><rect x="1167.9" y="3285.2" width="4" height="179.8"/><rect x="1179.3" y="3275.2" width="4" height="189.8"/><rect x="1190.6" y="3288.5" width="4" height="176.5"/><rect x="1202" y="3281.9" width="4" height="183.1"/>
</g>
<g fill="none" stroke-width="2.5">
<polyline stroke="#ff0000" points="663,3430 671,3410 679,3370 685,3398 691,3440 697,3460 703,3466 709,3415 714,3370 720,3340 726,3320 731,3280 735,3247 742,3320 750,3400 755,3405 759,3412 764,3400 769,3390 774,3350 779,3320 784,3300 789,3285 793,3277 805,3300 816,3320 822,3330 828,3340 834,3330 840,3320 846,3350 852,3372 856,3370 860,3365 867,3380 873,3420 878,3390 883,3355 889,3340 895,3325 902,3370 909,3405 916,3395 922,3385 930,3375 938,3360 946,3350 954,3340 963,3330 973,3315 983,3318 993,3325 999,3345 1005,3320 1012,3310 1020,3305 1026,3350 1032,3395 1038,3370 1044,3352 1050,3362 1056,3372 1078,3340 1099,3310 1110,3340 1122,3370 1134,3390 1146,3410 1152,3380 1158,3340 1164,3342 1170,3348 1176,3330 1181,3312 1187,3300 1192,3296"/>
<polyline stroke="#000" points="663,3446 671,3420 679,3385 685,3410 691,3434 697,3449 703,3464 709,3420 714,3379 720,3357 726,3336 731,3296 735,3256 742,3333 750,3411 755,3417 759,3423 764,3413 769,3403 774,3372 779,3340 784,3320 789,3300 793,3266 805,3286 816,3305 822,3318 828,3331 834,3324 840,3316 846,3343 852,3369 856,3374 860,3379 867,3405 873,3430 878,3388 883,3347 889,3330 895,3312 902,3362 909,3411 916,3403 922,3395 930,3381 938,3367 946,3357 954,3347 963,3327 973,3308 983,3309 993,3310 999,3308 1005,3306 1012,3303 1020,3300 1026,3340 1032,3379 1038,3361 1044,3343 1050,3356 1056,3369 1078,3334 1099,3298 1110,3326 1122,3355 1134,3379 1146,3403 1152,3368 1158,3334 1164,3339 1170,3345 1176,3326 1181,3308 1187,3300 1192,3291"/>
</g>
<g font-size="11" fill="#333" text-anchor="end">
<text transform="translate(673,3473) rotate(-90)">2022-01</text><text transform="translate(695.7,3473) rotate(-90)">2022-03</text><text transform="translate(718.4,3473) rotate(-90)">2022-05</text><text transform="translate(741.1,3473) rotate(-90)">2022-07</text><text transform="translate(763.8,3473) rotate(-90)">2022-09</text><text transform="translate(786.5,3473) rotate(-90)">2022-11</text><text transform="translate(809.2,3473) rotate(-90)">2023-01</text><text transform="translate(831.9,3473) rotate(-90)">2023-03</text><text transform="translate(854.6,3473) rotate(-90)">2023-05</text><text transform="translate(877.3,3473) rotate(-90)">2023-07</text><text transform="translate(900,3473) rotate(-90)">2023-09</text><text transform="translate(922.7,3473) rotate(-90)">2023-11</text><text transform="translate(945.4,3473) rotate(-90)">2024-01</text><text transform="translate(968.1,3473) rotate(-90)">2024-03</text><text transform="translate(990.8,3473) rotate(-90)">2024-05</text><text transform="translate(1013.5,3473) rotate(-90)">2024-07</text><text transform="translate(1036.2,3473) rotate(-90)">2024-09</text><text transform="translate(1058.9,3473) rotate(-90)">2024-11</text><text transform="translate(1081.6,3473) rotate(-90)">2025-01</text><text transform="translate(1104.3,3473) rotate(-90)">2025-03</text><text transform="translate(1127,3473) rotate(-90)">2025-05</text><text transform="translate(1149.7,3473) rotate(-90)">2025-07</text><text transform="translate(1172.4,3473) rotate(-90)">2025-09</text><text transform="translate(1195.1,3473) rotate(-90)">2025-11</text>
</g>

<!-- ===== Industrial production/sales (left r6) ===== -->
<text x="312" y="3534" font-size="20" font-weight="bold" text-anchor="middle" fill="#222">中国工业企业产销</text>
<g font-size="11" fill="#333">
<rect x="63" y="3541" width="20" height="10" fill="#5b9bd5"/><text x="86" y="3550">中国:工业企业:产销率:当月值</text>
<rect x="361" y="3541" width="20" height="10" fill="#f4b183"/><text x="386" y="3550">中国:工业企业:出口交货值:当月值</text>
<rect x="63" y="3559" width="20" height="3" fill="#ff0000"/><text x="86" y="3565">中国:工业企业:产销率:当月同比</text>
<rect x="361" y="3559" width="20" height="3" fill="#000"/><text x="386" y="3565">中国:工业企业:出口交货值:当月同比</text>
</g>
<g stroke="#ececec"><line x1="53" y1="3585" x2="569" y2="3585"/><line x1="53" y1="3612" x2="569" y2="3612"/><line x1="53" y1="3640" x2="569" y2="3640"/><line x1="53" y1="3667" x2="569" y2="3667"/><line x1="53" y1="3694" x2="569" y2="3694"/><line x1="53" y1="3721" x2="569" y2="3721"/><line x1="53" y1="3749" x2="569" y2="3749"/><line x1="53" y1="3776" x2="569" y2="3776"/></g>
<g font-size="12" fill="#333" text-anchor="end"><text x="50" y="3589">16,000</text><text x="50" y="3616">14,000</text><text x="50" y="3644">12,000</text><text x="50" y="3671">10,000</text><text x="50" y="3698">8,000</text><text x="50" y="3725">6,000</text><text x="50" y="3753">4,000</text><text x="50" y="3780">2,000</text><text x="50" y="3808">0</text></g>
<g font-size="12" fill="#333"><text x="575" y="3589">20</text><text x="575" y="3620">15</text><text x="575" y="3651">10</text><text x="575" y="3682">5</text><text x="575" y="3713">0</text><text x="575" y="3744">-5</text><text x="575" y="3775">-10</text><text x="575" y="3808">-15</text></g>
<g fill="#f4b183">
<rect x="54" y="3640" width="5" height="164"/><rect x="63" y="3646" width="5" height="158"/><rect x="72.1" y="3650" width="5" height="154"/><rect x="81.1" y="3638" width="5" height="166"/><rect x="90.1" y="3645" width="5" height="159"/><rect x="99.2" y="3638" width="5" height="166"/><rect x="108.2" y="3621" width="5" height="183"/><rect x="117.2" y="3614" width="5" height="190"/><rect x="126.2" y="3614" width="5" height="190"/><rect x="135.3" y="3601" width="5" height="203"/>
<rect x="162.4" y="3622" width="5" height="182"/><rect x="171.4" y="3648" width="5" height="156"/><rect x="180.4" y="3630" width="5" height="174"/><rect x="189.4" y="3612" width="5" height="192"/><rect x="198.5" y="3628" width="5" height="176"/><rect x="207.5" y="3628" width="5" height="176"/><rect x="216.5" y="3609" width="5" height="195"/><rect x="225.6" y="3624" width="5" height="180"/><rect x="234.6" y="3625" width="5" height="179"/><rect x="243.6" y="3617" width="5" height="187"/>
<rect x="270.7" y="3632" width="5" height="172"/><rect x="279.8" y="3648" width="5" height="156"/><rect x="288.8" y="3640" width="5" height="164"/><rect x="297.8" y="3632" width="5" height="172"/><rect x="306.8" y="3639" width="5" height="165"/><rect x="315.9" y="3636" width="5" height="168"/><rect x="324.9" y="3617" width="5" height="187"/><rect x="333.9" y="3627" width="5" height="177"/><rect x="343" y="3632" width="5" height="172"/><rect x="352" y="3625" width="5" height="179"/>
<rect x="379.1" y="3630" width="5" height="174"/><rect x="388.1" y="3635" width="5" height="169"/><rect x="397.1" y="3632" width="5" height="172"/><rect x="406.2" y="3623" width="5" height="181"/><rect x="415.2" y="3628" width="5" height="176"/><rect x="424.2" y="3625" width="5" height="179"/><rect x="433.3" y="3612" width="5" height="192"/><rect x="442.3" y="3619" width="5" height="185"/><rect x="451.3" y="3619" width="5" height="185"/><rect x="460.3" y="3607" width="5" height="197"/>
<rect x="487.4" y="3619" width="5" height="185"/><rect x="496.5" y="3634" width="5" height="170"/><rect x="505.5" y="3630" width="5" height="174"/><rect x="514.5" y="3616" width="5" height="188"/><rect x="523.5" y="3627" width="5" height="177"/><rect x="532.6" y="3625" width="5" height="179"/><rect x="541.6" y="3603" width="5" height="201"/><rect x="550.6" y="3623" width="5" height="181"/><rect x="559.7" y="3617" width="5" height="187"/>
</g>
<line x1="53" y1="3803" x2="569" y2="3803" stroke="#5b9bd5" stroke-width="2"/>
<g fill="none" stroke-width="2.5">
<polyline stroke="#ff0000" points="57,3701 67,3707 78,3713 94,3713 106,3711 118,3717 130,3717 140,3713 153,3719 166,3722 177,3721 184,3716 200,3715 212,3713 224,3717 235,3713 251,3713 271,3714 284,3705 298,3717 314,3710 330,3713 345,3707 361,3713 381,3718 392,3709 408,3717 424,3713 440,3717 451,3711 467,3709 502,3711 514,3715 526,3711 549,3708 559,3716 565,3713"/>
<polyline stroke="#000" points="57,3612 67,3594 75,3604 85,3628 94,3642 102,3616 111,3604 120,3638 130,3630 140,3614 153,3630 165,3642 174,3715 184,3638 194,3616 203,3652 212,3676 221,3680 229,3693 238,3751 247,3763 259,3755 273,3745 284,3705 294,3747 302,3771 314,3747 326,3735 336,3713 348,3729 357,3729 369,3715 383,3699 392,3666 402,3681 410,3685 420,3670 428,3670 437,3690 446,3688 455,3664 465,3656 475,3658 492,3662 501,3705 509,3705 518,3685 527,3705 538,3713 547,3685 556,3722 565,3711"/>
</g>
<g font-size="11" fill="#333" text-anchor="end">
<text transform="translate(63,3811) rotate(-90)">2021-03</text><text transform="translate(81.1,3811) rotate(-90)">2021-05</text><text transform="translate(99.1,3811) rotate(-90)">2021-07</text><text transform="translate(117.2,3811) rotate(-90)">2021-09</text><text transform="translate(135.3,3811) rotate(-90)">2021-11</text><text transform="translate(153.4,3811) rotate(-90)">2022-01</text><text transform="translate(171.4,3811) rotate(-90)">2022-03</text><text transform="translate(189.5,3811) rotate(-90)">2022-05</text><text transform="translate(207.6,3811) rotate(-90)">2022-07</text><text transform="translate(225.6,3811) rotate(-90)">2022-09</text><text transform="translate(243.7,3811) rotate(-90)">2022-11</text><text transform="translate(261.8,3811) rotate(-90)">2023-01</text><text transform="translate(279.8,3811) rotate(-90)">2023-03</text><text transform="translate(297.9,3811) rotate(-90)">2023-05</text><text transform="translate(316,3811) rotate(-90)">2023-07</text><text transform="translate(334,3811) rotate(-90)">2023-09</text><text transform="translate(352.1,3811) rotate(-90)">2023-11</text><text transform="translate(370.2,3811) rotate(-90)">2024-01</text><text transform="translate(388.3,3811) rotate(-90)">2024-03</text><text transform="translate(406.3,3811) rotate(-90)">2024-05</text><text transform="translate(424.4,3811) rotate(-90)">2024-07</text><text transform="translate(442.5,3811) rotate(-90)">2024-09</text><text transform="translate(460.5,3811) rotate(-90)">2024-11</text><text transform="translate(478.6,3811) rotate(-90)">2025-01</text><text transform="translate(496.7,3811) rotate(-90)">2025-03</text><text transform="translate(514.8,3811) rotate(-90)">2025-05</text><text transform="translate(532.8,3811) rotate(-90)">2025-07</text><text transform="translate(550.9,3811) rotate(-90)">2025-09</text><text transform="translate(569,3811) rotate(-90)">2025-11</text>
</g>

<!-- ===== Port cargo yoy (right r6) ===== -->
<text x="924" y="3536" font-size="20" font-weight="bold" text-anchor="middle" fill="#222">主要港口货物吞吐量同比</text>
<g font-size="12" fill="#333">
<rect x="648" y="3547" width="24" height="3" fill="#333"/><text x="675" y="3553">中国:沿海主要港口货物吞吐量:当月同比</text>
<rect x="959" y="3547" width="24" height="3" fill="#ff0000"/><text x="985" y="3553">中国:外贸货物吞吐量:当月同比</text>
<rect x="648" y="3561" width="24" height="3" fill="#f4b183"/><text x="675" y="3567">集装箱吞吐量:上海口岸:当月同比</text>
</g>
<g stroke="#ececec"><line x1="661" y1="3582" x2="1215" y2="3582"/><line x1="661" y1="3612" x2="1215" y2="3612"/><line x1="661" y1="3642" x2="1215" y2="3642"/><line x1="661" y1="3672" x2="1215" y2="3672"/><line x1="661" y1="3703" x2="1215" y2="3703"/><line x1="661" y1="3763" x2="1215" y2="3763"/><line x1="661" y1="3793" x2="1215" y2="3793"/></g>
<line x1="661" y1="3733" x2="1215" y2="3733" stroke="#333" stroke-width="1.3"/>
<g font-size="13" fill="#222" text-anchor="end"><text x="657" y="3586">50.00</text><text x="657" y="3616">40.00</text><text x="657" y="3646">30.00</text><text x="657" y="3676">20.00</text><text x="657" y="3707">10.00</text><text x="657" y="3737">0.00</text><text x="657" y="3767">-10.00</text><text x="657" y="3797">-20.00</text></g>
<g fill="none" stroke-width="1.8">
<polyline stroke="#f4b183" stroke-width="1.4" points="671,3790 679,3767 691,3743 703,3757 710,3743 722,3707 734,3699 750,3695 755,3691 765,3584 773,3676 781,3717 789,3699 797,3682 805,3735 812,3689 820,3731 832,3707 844,3703 859,3689 867,3703 875,3784 887,3755 899,3719 911,3747 922,3745 934,3731 942,3727 946,3743 954,3759 962,3739 969,3640 977,3676 985,3723 993,3739 1001,3569 1005,3729 1011,3566 1016,3731 1024,3727 1032,3682 1044,3703 1056,3715 1068,3723 1079,3693 1087,3690 1095,3707 1111,3743 1126,3788 1134,3735 1146,3715 1158,3703 1166,3689 1173,3735 1181,3695 1189,3677 1197,3670 1205,3684 1213,3688"/>
<polyline stroke="#ff0000" points="663,3729 679,3735 691,3725 703,3712 710,3703 722,3713 734,3719 746,3715 757,3707 767,3682 777,3695 789,3707 801,3747 808,3719 820,3743 832,3725 844,3729 859,3749 867,3751 879,3731 895,3727 907,3751 918,3735 934,3727 946,3731 962,3695 973,3703 985,3701 1001,3686 1013,3693 1024,3703 1036,3705 1052,3709 1068,3709 1083,3713 1099,3717 1115,3713 1130,3723 1146,3729 1162,3723 1173,3721 1185,3711 1197,3709 1205,3709"/>
<polyline stroke="#222" points="663,3741 671,3753 683,3733 691,3727 703,3707 710,3703 718,3713 730,3715 742,3717 750,3725 757,3695 765,3679 777,3689 789,3705 801,3733 812,3725 820,3737 832,3727 844,3723 856,3727 867,3733 875,3740 887,3737 899,3717 907,3735 914,3725 930,3721 938,3727 946,3745 954,3699 962,3701 973,3705 985,3709 993,3715 1001,3703 1013,3713 1020,3715 1036,3717 1052,3719 1068,3723 1083,3725 1099,3729 1115,3723 1130,3717 1146,3725 1162,3721 1177,3719 1185,3715 1193,3721 1205,3714"/>
</g>
<g font-size="12" fill="#222" text-anchor="end">
<text transform="translate(670,3803) rotate(-90)">2020-01</text><text transform="translate(693.4,3803) rotate(-90)">2020-04</text><text transform="translate(716.8,3803) rotate(-90)">2020-07</text><text transform="translate(740.2,3803) rotate(-90)">2020-10</text><text transform="translate(763.6,3803) rotate(-90)">2021-01</text><text transform="translate(787,3803) rotate(-90)">2021-04</text><text transform="translate(810.4,3803) rotate(-90)">2021-07</text><text transform="translate(833.8,3803) rotate(-90)">2021-10</text><text transform="translate(857.2,3803) rotate(-90)">2022-01</text><text transform="translate(880.6,3803) rotate(-90)">2022-04</text><text transform="translate(904,3803) rotate(-90)">2022-07</text><text transform="translate(927.4,3803) rotate(-90)">2022-10</text><text transform="translate(950.8,3803) rotate(-90)">2023-01</text><text transform="translate(974.2,3803) rotate(-90)">2023-04</text><text transform="translate(997.6,3803) rotate(-90)">2023-07</text><text transform="translate(1021,3803) rotate(-90)">2023-10</text><text transform="translate(1044.4,3803) rotate(-90)">2024-01</text><text transform="translate(1067.8,3803) rotate(-90)">2024-04</text><text transform="translate(1091.2,3803) rotate(-90)">2024-07</text><text transform="translate(1114.6,3803) rotate(-90)">2024-10</text><text transform="translate(1138,3803) rotate(-90)">2025-01</text><text transform="translate(1161.4,3803) rotate(-90)">2025-04</text><text transform="translate(1184.8,3803) rotate(-90)">2025-07</text><text transform="translate(1208.2,3803) rotate(-90)">2025-10</text>
</g>

<!-- ===== China-Europe weekly capacity (left r7) ===== -->
<text x="324" y="3885" font-size="22" font-weight="bold" text-anchor="middle" fill="#111">中国--欧洲周度集装箱运力投放</text>
<g stroke="#e6e6e6"><line x1="61" y1="3923" x2="597" y2="3923"/><line x1="61" y1="3959" x2="597" y2="3959"/><line x1="61" y1="3995" x2="597" y2="3995"/><line x1="61" y1="4032" x2="597" y2="4032"/><line x1="61" y1="4068" x2="597" y2="4068"/><line x1="61" y1="4104" x2="597" y2="4104"/></g>
<g font-size="13" fill="#222" text-anchor="end"><text x="48" y="3928">400000</text><text x="48" y="3964">350000</text><text x="48" y="4000">300000</text><text x="48" y="4037">250000</text><text x="48" y="4073">200000</text><text x="48" y="4109">150000</text><text x="48" y="4145">100000</text></g>
<polygon fill="#5b9bd5" points="61,4140 61,4016 67,4023 72,4096 77,4018 82,4090 88,4042 94,4006 98,4052 104,4025 110,4002 115,3989 119,4065 124,4014 130,3995 135,3970 140,3974 145,4031 149,3983 155,3968 161,4029 166,3991 171,3964 177,4006 182,4006 188,4035 192,4039 198,4008 203,4014 208,4004 213,4010 220,4006 228,4006 232,4014 237,4004 243,4056 249,4081 254,4100 259,4065 267,3993 272,3989 279,4014 284,3987 290,4002 298,3985 306,3985 310,4018 316,3993 322,3974 328,4018 334,4014 339,3968 345,3981 351,4006 357,3989 363,4052 367,3909 369,4006 375,4010 381,4006 386,4023 392,4031 399,3993 404,4002 410,3943 416,3977 422,3997 428,3985 433,3964 440,4002 446,4010 451,3989 457,3964 463,3989 469,3920 473,3989 479,3985 485,3981 491,4006 496,3981 502,3968 509,3981 514,3974 520,3947 524,3941 530,3977 535,3968 542,3922 546,4018 549,4086 553,3970 559,3974 565,3989 571,4021 575,3989 581,3937 587,3964 590,3983 594,3951 597,3968 597,4140"/>
<line x1="61" y1="4140" x2="597" y2="4140" stroke="#444"/>
<g font-size="12" fill="#222" text-anchor="end">
<text transform="translate(64,4150) rotate(-45)">23/1/1</text><text transform="translate(93.6,4150) rotate(-45)">23/3/1</text><text transform="translate(123.1,4150) rotate(-45)">23/5/1</text><text transform="translate(152.7,4150) rotate(-45)">23/7/1</text><text transform="translate(182.2,4150) rotate(-45)">23/9/1</text><text transform="translate(211.8,4150) rotate(-45)">23/11/1</text><text transform="translate(241.4,4150) rotate(-45)">24/1/1</text><text transform="translate(270.9,4150) rotate(-45)">24/3/1</text><text transform="translate(300.5,4150) rotate(-45)">24/5/1</text><text transform="translate(330,4150) rotate(-45)">24/7/1</text><text transform="translate(359.6,4150) rotate(-45)">24/9/1</text><text transform="translate(389.2,4150) rotate(-45)">24/11/1</text><text transform="translate(418.7,4150) rotate(-45)">25/1/1</text><text transform="translate(448.3,4150) rotate(-45)">25/3/1</text><text transform="translate(477.8,4150) rotate(-45)">25/5/1</text><text transform="translate(507.4,4150) rotate(-45)">25/7/1</text><text transform="translate(537,4150) rotate(-45)">25/9/1</text><text transform="translate(566.5,4150) rotate(-45)">25/11/1</text><text transform="translate(596.1,4150) rotate(-45)">26/1/1</text>
</g>

<!-- ===== Global vessel speed (right r7) ===== -->
<text x="927" y="3877" font-size="20" font-weight="bold" text-anchor="middle" fill="#444">全球船舶航速</text>
<g font-size="12" fill="#444">
<rect x="655" y="3887" width="24" height="3" fill="#a9d18e"/><text x="681" y="3892">2020</text>
<rect x="738" y="3887" width="24" height="3" fill="#8faadc"/><text x="764" y="3892">2021</text>
<rect x="820" y="3887" width="24" height="3" fill="#f4b183"/><text x="846" y="3892">2022</text>
<rect x="903" y="3887" width="24" height="3" fill="#000"/><text x="929" y="3892">2023</text>
<rect x="985" y="3887" width="24" height="3" fill="#ff0000"/><text x="1011" y="3892">2024</text>
<rect x="1068" y="3887" width="24" height="3" fill="#4dd0e1"/><text x="1094" y="3892">2025</text>
<rect x="1150" y="3887" width="24" height="3" fill="#e8573a"/><text x="1176" y="3892">2026</text>
</g>
<g stroke="#ececec">
<line x1="650" y1="3900" x2="650" y2="4153"/><line x1="671.7" y1="3900" x2="671.7" y2="4153"/><line x1="693.3" y1="3900" x2="693.3" y2="4153"/><line x1="715" y1="3900" x2="715" y2="4153"/><line x1="736.6" y1="3900" x2="736.6" y2="4153"/><line x1="758.3" y1="3900" x2="758.3" y2="4153"/><line x1="780" y1="3900" x2="780" y2="4153"/><line x1="801.6" y1="3900" x2="801.6" y2="4153"/><line x1="823.3" y1="3900" x2="823.3" y2="4153"/><line x1="844.9" y1="3900" x2="844.9" y2="4153"/><line x1="866.6" y1="3900" x2="866.6" y2="4153"/><line x1="888.3" y1="3900" x2="888.3" y2="4153"/><line x1="909.9" y1="3900" x2="909.9" y2="4153"/><line x1="931.6" y1="3900" x2="931.6" y2="4153"/><line x1="953.2" y1="3900" x2="953.2" y2="4153"/><line x1="974.9" y1="3900" x2="974.9" y2="4153"/><line x1="996.6" y1="3900" x2="996.6" y2="4153"/><line x1="1018.2" y1="3900" x2="1018.2" y2="4153"/><line x1="1039.9" y1="3900" x2="1039.9" y2="4153"/><line x1="1061.5" y1="3900" x2="1061.5" y2="4153"/><line x1="1083.2" y1="3900" x2="1083.2" y2="4153"/><line x1="1104.9" y1="3900" x2="1104.9" y2="4153"/><line x1="1126.5" y1="3900" x2="1126.5" y2="4153"/><line x1="1148.2" y1="3900" x2="1148.2" y2="4153"/><line x1="1169.8" y1="3900" x2="1169.8" y2="4153"/><line x1="1191.5" y1="3900" x2="1191.5" y2="4153"/><line x1="1213.2" y1="3900" x2="1213.2" y2="4153"/>
</g>
<g font-size="13" fill="#444"><text x="613" y="3904">12.5</text><text x="622" y="3940">12</text><text x="613" y="3976">11.5</text><text x="622" y="4012">11</text><text x="613" y="4049">10.5</text><text x="622" y="4085">10</text><text x="613" y="4121">9.5</text><text x="625" y="4157">9</text></g>
<g fill="none" stroke-width="2.2">
<polyline stroke="#a9d18e" points="650,4038 661,4013 672,4002 683,3966 693,3937 704,3959 715,4009 726,4016 737,4023 748,4016 758,4016 769,4020 780,4023 791,4013 802,4016 813,4027 823,4031 834,4013 845,4016 856,4031 867,4031 877,4038 888,4052 899,4049 910,4045 931,4045 953,4041 975,4045 997,4041 1007,4081 1018,4045 1040,4041 1051,4045 1062,4085 1072,4049 1083,4038 1105,4041 1127,4049 1137,4038 1148,4034 1159,4045 1181,4041 1192,4059"/>
<polyline stroke="#8faadc" points="650,4059 661,4074 672,4038 679,4131 693,4031 704,3966 715,3980 726,4020 737,4031 748,4027 758,4031 769,4031 780,4034 802,4031 823,4038 845,4045 867,4038 888,4038 910,4038 932,4041 953,4045 975,4052 997,4049 1018,4052 1040,4052 1062,4041 1072,4023 1094,4034 1105,4038 1127,4052 1148,4059 1170,4063 1192,4059"/>
<polyline stroke="#f4b183" points="650,4066 672,4045 693,4009 704,3973 715,4002 726,4045 737,4059 748,4063 758,4059 780,4059 802,4063 823,4052 845,4049 867,4045 888,4059 910,4049 932,4041 953,4052 975,4059 997,4052 1018,4052 1040,4063 1062,4049 1083,4041 1105,4063 1127,4056 1148,4059 1170,4059 1192,4049 1202,4059"/>
<polyline stroke="#4dd0e1" stroke-width="1.4" points="650,4074 661,4070 672,4059 683,4045 693,3995 704,4059 715,4059 726,4070 737,4081 748,4070 758,4074 769,4074 780,4074 791,4074 802,4081 813,4070 823,4067 834,4059 845,4070 856,4074 867,4074 877,4070 888,4070 899,4063 910,4070 921,4059 932,4052 942,4052 953,4052 964,4052 975,4056 986,4049 997,4045 1007,4045 1018,4049 1029,4045 1040,4045 1051,4016 1062,4059 1072,4038 1083,4031 1094,4041 1105,4052 1116,4052 1127,4052 1137,4052 1148,4049 1159,4049 1170,4052 1181,4049 1192,4052"/>
<polyline stroke="#000" points="650,4074 661,4067 672,4038 683,4009 693,3980 704,4045 715,4045 726,4049 737,4052 748,4056 758,4038 769,4045 780,4052 791,4052 802,4052 813,4049 823,4045 834,4049 845,4038 856,4041 867,4041 877,4041 888,4049 899,4041 910,4045 921,4038 932,4041 942,4041 953,4041 964,4041 975,4045 986,4049 997,4049 1007,4045 1018,4038 1029,4027 1040,4056 1051,4041 1062,4045 1072,4045 1083,4009 1094,4056 1105,4052 1116,4056 1127,4034 1137,4067 1148,4052 1159,4056 1170,4052 1181,4056 1192,4067 1202,4067 1213,4063"/>
<polyline stroke="#ff0000" points="650,4067 661,4059 672,4059 683,4023 693,4052 704,3987 715,4045 726,4052 737,4056 748,4045 758,4049 769,4056 780,4056 791,4056 802,4052 813,4041 823,4041 834,4038 845,4045 856,4045 867,4045 877,4041 888,4045 899,4041 910,4045 921,4049 932,4059 942,4052 953,4052 964,4052 975,4049 986,4031 997,4045 1007,4045 1018,4002 1029,4045 1040,4052 1051,4052 1062,4049 1072,4045 1083,4034 1094,4059 1105,4059 1116,4059 1127,4059 1137,4056 1148,4067 1159,4067 1170,4059 1181,4059 1192,4067 1202,4077"/>
<polyline stroke="#e8573a" stroke-width="1.4" points="650,4063 661,4056 672,4059 683,4052 693,4056"/>
</g>
<g font-size="11" fill="#444" text-anchor="end">
<text transform="translate(654,4157) rotate(-90)">第1周</text><text transform="translate(675.7,4157) rotate(-90)">第3周</text><text transform="translate(697.3,4157) rotate(-90)">第5周</text><text transform="translate(719,4157) rotate(-90)">第7周</text><text transform="translate(740.6,4157) rotate(-90)">第9周</text><text transform="translate(762.3,4157) rotate(-90)">第11周</text><text transform="translate(784,4157) rotate(-90)">第13周</text><text transform="translate(805.6,4157) rotate(-90)">第15周</text><text transform="translate(827.3,4157) rotate(-90)">第17周</text><text transform="translate(848.9,4157) rotate(-90)">第19周</text><text transform="translate(870.6,4157) rotate(-90)">第21周</text><text transform="translate(892.3,4157) rotate(-90)">第23周</text><text transform="translate(913.9,4157) rotate(-90)">第25周</text><text transform="translate(935.6,4157) rotate(-90)">第27周</text><text transform="translate(957.2,4157) rotate(-90)">第29周</text><text transform="translate(978.9,4157) rotate(-90)">第31周</text><text transform="translate(1000.6,4157) rotate(-90)">第33周</text><text transform="translate(1022.2,4157) rotate(-90)">第35周</text><text transform="translate(1043.9,4157) rotate(-90)">第37周</text><text transform="translate(1065.5,4157) rotate(-90)">第39周</text><text transform="translate(1087.2,4157) rotate(-90)">第41周</text><text transform="translate(1108.9,4157) rotate(-90)">第43周</text><text transform="translate(1130.5,4157) rotate(-90)">第45周</text><text transform="translate(1152.2,4157) rotate(-90)">第47周</text><text transform="translate(1173.8,4157) rotate(-90)">第49周</text><text transform="translate(1195.5,4157) rotate(-90)">第51周</text><text transform="translate(1217.2,4157) rotate(-90)">第53周</text>
</g>
</svg>
</body></html>
